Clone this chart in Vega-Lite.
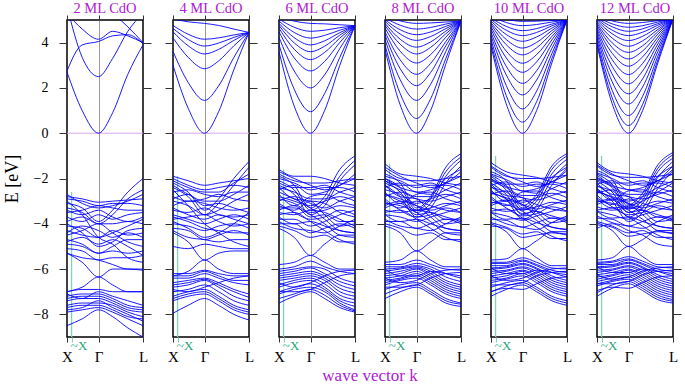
{
"$schema":"https://vega.github.io/schema/vega-lite/v6.json",
"background":"white",
"padding":{"left":2,"top":0,"right":0,"bottom":0},
"spacing":30,
"bounds":"flush",
"title":{"text":"wave vector k","orient":"bottom","anchor":"middle","frame":"group","dx":303,"color":"#b020d0","fontSize":17,"font":"Liberation Serif","fontWeight":"normal","offset":3},
"config":{"font":"Liberation Serif","view":{"stroke":"#000","strokeWidth":1.5},"axis":{"labelFont":"Liberation Serif","titleFont":"Liberation Serif","domain":false,"tickColor":"#333","labelColor":"#000","titleColor":"#000"},"title":{"font":"Liberation Serif","fontWeight":"normal","color":"#b020d0","fontSize":14.5,"offset":-2}},
"datasets":{
"p1":[
{"b":1,"k":0,"e":-2.8},{"b":1,"k":40,"e":-2.9},{"b":1,"k":83,"e":-3.05},{"b":1,"k":120,"e":-3.0},{"b":1,"k":160,"e":-2.95},{"b":1,"k":200,"e":-2.9},
{"b":2,"k":0,"e":-2.9},{"b":2,"k":40,"e":-3.0},{"b":2,"k":83,"e":-3.2},{"b":2,"k":120,"e":-3.1},{"b":2,"k":160,"e":-3.1},{"b":2,"k":200,"e":-3.2},
{"b":3,"k":0,"e":-3.1},{"b":3,"k":40,"e":-3.3},{"b":3,"k":83,"e":-3.9},{"b":3,"k":120,"e":-3.4},{"b":3,"k":160,"e":-2.6},{"b":3,"k":200,"e":-2.0},
{"b":4,"k":0,"e":-3.3},{"b":4,"k":40,"e":-3.5},{"b":4,"k":83,"e":-4.0},{"b":4,"k":120,"e":-3.6},{"b":4,"k":160,"e":-2.9},{"b":4,"k":200,"e":-2.5},
{"b":5,"k":0,"e":-3.5},{"b":5,"k":40,"e":-3.4},{"b":5,"k":83,"e":-3.2},{"b":5,"k":120,"e":-3.3},{"b":5,"k":160,"e":-3.4},{"b":5,"k":200,"e":-3.4},
{"b":6,"k":0,"e":-3.7},{"b":6,"k":40,"e":-3.9},{"b":6,"k":83,"e":-3.6},{"b":6,"k":120,"e":-3.8},{"b":6,"k":160,"e":-3.6},{"b":6,"k":200,"e":-3.5},
{"b":7,"k":0,"e":-3.9},{"b":7,"k":40,"e":-3.7},{"b":7,"k":83,"e":-4.0},{"b":7,"k":120,"e":-4.0},{"b":7,"k":160,"e":-3.9},{"b":7,"k":200,"e":-4.0},
{"b":8,"k":0,"e":-4.1},{"b":8,"k":40,"e":-4.2},{"b":8,"k":83,"e":-4.6},{"b":8,"k":120,"e":-4.4},{"b":8,"k":160,"e":-4.1},{"b":8,"k":200,"e":-3.8},
{"b":9,"k":0,"e":-4.3},{"b":9,"k":40,"e":-4.5},{"b":9,"k":83,"e":-4.6},{"b":9,"k":120,"e":-4.3},{"b":9,"k":160,"e":-4.5},{"b":9,"k":200,"e":-4.4},
{"b":10,"k":0,"e":-4.5},{"b":10,"k":40,"e":-4.3},{"b":10,"k":83,"e":-4.0},{"b":10,"k":120,"e":-4.4},{"b":10,"k":160,"e":-4.8},{"b":10,"k":200,"e":-5.0},
{"b":11,"k":0,"e":-4.7},{"b":11,"k":40,"e":-4.9},{"b":11,"k":83,"e":-5.3},{"b":11,"k":120,"e":-5.0},{"b":11,"k":160,"e":-4.7},{"b":11,"k":200,"e":-4.7},
{"b":12,"k":0,"e":-4.9},{"b":12,"k":40,"e":-5.0},{"b":12,"k":83,"e":-5.3},{"b":12,"k":120,"e":-5.2},{"b":12,"k":160,"e":-5.3},{"b":12,"k":200,"e":-5.2},
{"b":13,"k":0,"e":-5.1},{"b":13,"k":40,"e":-5.2},{"b":13,"k":83,"e":-5.6},{"b":13,"k":120,"e":-5.5},{"b":13,"k":160,"e":-5.5},{"b":13,"k":200,"e":-5.4},
{"b":14,"k":0,"e":-5.3},{"b":14,"k":40,"e":-5.5},{"b":14,"k":83,"e":-5.6},{"b":14,"k":120,"e":-5.8},{"b":14,"k":160,"e":-6.0},{"b":14,"k":200,"e":-6.0},
{"b":15,"k":0,"e":-3.0},{"b":15,"k":40,"e":-3.6},{"b":15,"k":83,"e":-4.6},{"b":15,"k":120,"e":-4.9},{"b":15,"k":160,"e":-5.5},{"b":15,"k":200,"e":-5.7},
{"b":16,"k":0,"e":-5.3},{"b":16,"k":40,"e":-5.7},{"b":16,"k":83,"e":-6.35},{"b":16,"k":120,"e":-6.0},{"b":16,"k":160,"e":-6.0},{"b":16,"k":200,"e":-6.05},
{"b":17,"k":0,"e":-7.0},{"b":17,"k":40,"e":-6.8},{"b":17,"k":83,"e":-6.35},{"b":17,"k":120,"e":-6.7},{"b":17,"k":160,"e":-7.0},{"b":17,"k":200,"e":-7.0},
{"b":18,"k":0,"e":-7.0},{"b":18,"k":40,"e":-6.9},{"b":18,"k":83,"e":-6.9},{"b":18,"k":120,"e":-7.0},{"b":18,"k":160,"e":-7.0},{"b":18,"k":200,"e":-7.0},
{"b":19,"k":0,"e":-7.2},{"b":19,"k":40,"e":-7.1},{"b":19,"k":83,"e":-7.1},{"b":19,"k":120,"e":-7.3},{"b":19,"k":160,"e":-7.6},{"b":19,"k":200,"e":-7.7},
{"b":20,"k":0,"e":-7.4},{"b":20,"k":40,"e":-7.3},{"b":20,"k":83,"e":-7.3},{"b":20,"k":120,"e":-7.5},{"b":20,"k":160,"e":-7.8},{"b":20,"k":200,"e":-7.9},
{"b":21,"k":0,"e":-7.6},{"b":21,"k":40,"e":-7.5},{"b":21,"k":83,"e":-7.5},{"b":21,"k":120,"e":-7.6},{"b":21,"k":160,"e":-7.9},{"b":21,"k":200,"e":-8.1},
{"b":22,"k":0,"e":-7.7},{"b":22,"k":40,"e":-7.6},{"b":22,"k":83,"e":-7.6},{"b":22,"k":120,"e":-7.8},{"b":22,"k":160,"e":-8.1},{"b":22,"k":200,"e":-8.2},
{"b":23,"k":0,"e":-7.9},{"b":23,"k":40,"e":-7.8},{"b":23,"k":83,"e":-7.7},{"b":23,"k":120,"e":-7.9},{"b":23,"k":160,"e":-8.2},{"b":23,"k":200,"e":-8.5},
{"b":24,"k":0,"e":-8.5},{"b":24,"k":40,"e":-8.2},{"b":24,"k":83,"e":-7.8},{"b":24,"k":120,"e":-8.1},{"b":24,"k":160,"e":-8.6},{"b":24,"k":200,"e":-9.0},
{"b":25,"k":0,"e":-7.1},{"b":25,"k":40,"e":-7.3},{"b":25,"k":83,"e":-7.0},{"b":25,"k":120,"e":-7.2},{"b":25,"k":160,"e":-7.4},{"b":25,"k":200,"e":-7.6},
{"b":26,"k":0,"e":-4.0},{"b":26,"k":40,"e":-4.4},{"b":26,"k":83,"e":-5.0},{"b":26,"k":120,"e":-4.8},{"b":26,"k":160,"e":-4.3},{"b":26,"k":200,"e":-4.2},
{"b":27,"k":0,"e":-2.7},{"b":27,"k":40,"e":-3.1},{"b":27,"k":83,"e":-3.3},{"b":27,"k":120,"e":-3.2},{"b":27,"k":160,"e":-3.0},{"b":27,"k":200,"e":-2.7},
{"b":28,"k":0,"e":-3.4},{"b":28,"k":40,"e":-3.6},{"b":28,"k":83,"e":-3.4},{"b":28,"k":120,"e":-3.7},{"b":28,"k":160,"e":-3.9},{"b":28,"k":200,"e":-3.7},
{"b":29,"k":0,"e":-4.4},{"b":29,"k":40,"e":-4.1},{"b":29,"k":83,"e":-4.3},{"b":29,"k":120,"e":-4.6},{"b":29,"k":160,"e":-4.4},{"b":29,"k":200,"e":-4.6},
{"b":30,"k":0,"e":-4.8},{"b":30,"k":40,"e":-4.6},{"b":30,"k":83,"e":-4.9},{"b":30,"k":120,"e":-4.7},{"b":30,"k":160,"e":-5.0},{"b":30,"k":200,"e":-5.4},
{"b":31,"k":0,"e":-7.3},{"b":31,"k":40,"e":-7.2},{"b":31,"k":83,"e":-7.2},{"b":31,"k":120,"e":-7.4},{"b":31,"k":160,"e":-7.7},{"b":31,"k":200,"e":-7.8},
{"b":32,"k":0,"e":-7.8},{"b":32,"k":40,"e":-7.7},{"b":32,"k":83,"e":-7.4},{"b":32,"k":120,"e":-7.7},{"b":32,"k":160,"e":-8.0},{"b":32,"k":200,"e":-8.3},
{"b":101,"k":0,"e":2.7},{"b":101,"k":40,"e":1.0},{"b":101,"k":83,"e":0},{"b":101,"k":120,"e":0.9},{"b":101,"k":160,"e":2.6},{"b":101,"k":200,"e":3.9},
{"b":102,"k":0,"e":5.6},{"b":102,"k":40,"e":3.35},{"b":102,"k":83,"e":2.5},{"b":102,"k":120,"e":3.3},{"b":102,"k":160,"e":4.5},{"b":102,"k":200,"e":5.3},
{"b":103,"k":0,"e":2.75},{"b":103,"k":40,"e":3.9},{"b":103,"k":83,"e":4.05},{"b":103,"k":120,"e":4.3},{"b":103,"k":160,"e":4.35},{"b":103,"k":200,"e":3.95},
{"b":104,"k":0,"e":5.3},{"b":104,"k":40,"e":4.6},{"b":104,"k":83,"e":4.15},{"b":104,"k":120,"e":4.5},{"b":104,"k":160,"e":4.3},{"b":104,"k":200,"e":4.0},
{"b":105,"k":0,"e":6.0},{"b":105,"k":40,"e":6.0},{"b":105,"k":83,"e":5.8},{"b":105,"k":120,"e":5.3},{"b":105,"k":160,"e":4.7},{"b":105,"k":200,"e":4.0}
],
"p2":[
{"b":1,"k":0,"e":-1.9},{"b":1,"k":40,"e":-2.1},{"b":1,"k":83,"e":-2.3},{"b":1,"k":120,"e":-2.2},{"b":1,"k":160,"e":-2.1},{"b":1,"k":200,"e":-2.0},
{"b":2,"k":0,"e":-2.0},{"b":2,"k":40,"e":-2.3},{"b":2,"k":83,"e":-2.5},{"b":2,"k":120,"e":-2.4},{"b":2,"k":160,"e":-2.3},{"b":2,"k":200,"e":-2.4},
{"b":3,"k":0,"e":-2.2},{"b":3,"k":40,"e":-2.6},{"b":3,"k":83,"e":-3.4},{"b":3,"k":120,"e":-2.9},{"b":3,"k":160,"e":-2.0},{"b":3,"k":200,"e":-1.25},
{"b":4,"k":0,"e":-2.4},{"b":4,"k":40,"e":-2.8},{"b":4,"k":83,"e":-3.6},{"b":4,"k":120,"e":-3.1},{"b":4,"k":160,"e":-2.3},{"b":4,"k":200,"e":-1.5},
{"b":5,"k":0,"e":-2.6},{"b":5,"k":40,"e":-2.5},{"b":5,"k":83,"e":-2.7},{"b":5,"k":120,"e":-2.8},{"b":5,"k":160,"e":-2.6},{"b":5,"k":200,"e":-2.6},
{"b":6,"k":0,"e":-2.8},{"b":6,"k":40,"e":-3.0},{"b":6,"k":83,"e":-2.9},{"b":6,"k":120,"e":-2.7},{"b":6,"k":160,"e":-2.9},{"b":6,"k":200,"e":-3.0},
{"b":7,"k":0,"e":-3.0},{"b":7,"k":40,"e":-3.2},{"b":7,"k":83,"e":-3.6},{"b":7,"k":120,"e":-3.4},{"b":7,"k":160,"e":-3.0},{"b":7,"k":200,"e":-2.7},
{"b":8,"k":0,"e":-3.2},{"b":8,"k":40,"e":-3.0},{"b":8,"k":83,"e":-3.1},{"b":8,"k":120,"e":-3.3},{"b":8,"k":160,"e":-3.4},{"b":8,"k":200,"e":-3.3},
{"b":9,"k":0,"e":-3.4},{"b":9,"k":40,"e":-3.5},{"b":9,"k":83,"e":-3.3},{"b":9,"k":120,"e":-3.6},{"b":9,"k":160,"e":-3.7},{"b":9,"k":200,"e":-3.6},
{"b":10,"k":0,"e":-3.6},{"b":10,"k":40,"e":-3.8},{"b":10,"k":83,"e":-4.0},{"b":10,"k":120,"e":-3.8},{"b":10,"k":160,"e":-3.6},{"b":10,"k":200,"e":-3.8},
{"b":11,"k":0,"e":-3.8},{"b":11,"k":40,"e":-3.7},{"b":11,"k":83,"e":-3.6},{"b":11,"k":120,"e":-3.9},{"b":11,"k":160,"e":-4.1},{"b":11,"k":200,"e":-4.0},
{"b":12,"k":0,"e":-4.0},{"b":12,"k":40,"e":-4.1},{"b":12,"k":83,"e":-4.3},{"b":12,"k":120,"e":-4.1},{"b":12,"k":160,"e":-4.0},{"b":12,"k":200,"e":-4.2},
{"b":13,"k":0,"e":-4.2},{"b":13,"k":40,"e":-4.3},{"b":13,"k":83,"e":-4.7},{"b":13,"k":120,"e":-4.5},{"b":13,"k":160,"e":-4.3},{"b":13,"k":200,"e":-4.5},
{"b":14,"k":0,"e":-4.3},{"b":14,"k":40,"e":-4.6},{"b":14,"k":83,"e":-4.7},{"b":14,"k":120,"e":-4.8},{"b":14,"k":160,"e":-4.7},{"b":14,"k":200,"e":-4.7},
{"b":15,"k":0,"e":-2.5},{"b":15,"k":40,"e":-3.2},{"b":15,"k":83,"e":-4.0},{"b":15,"k":120,"e":-4.4},{"b":15,"k":160,"e":-4.8},{"b":15,"k":200,"e":-5.0},
{"b":16,"k":0,"e":-4.4},{"b":16,"k":40,"e":-4.8},{"b":16,"k":83,"e":-5.6},{"b":16,"k":120,"e":-5.3},{"b":16,"k":160,"e":-5.2},{"b":16,"k":200,"e":-5.2},
{"b":17,"k":0,"e":-6.3},{"b":17,"k":40,"e":-6.1},{"b":17,"k":83,"e":-5.6},{"b":17,"k":120,"e":-6.0},{"b":17,"k":160,"e":-6.2},{"b":17,"k":200,"e":-6.2},
{"b":18,"k":0,"e":-6.2},{"b":18,"k":40,"e":-6.2},{"b":18,"k":83,"e":-6.05},{"b":18,"k":120,"e":-6.2},{"b":18,"k":160,"e":-6.3},{"b":18,"k":200,"e":-6.3},
{"b":19,"k":0,"e":-6.4},{"b":19,"k":40,"e":-6.4},{"b":19,"k":83,"e":-6.2},{"b":19,"k":120,"e":-6.4},{"b":19,"k":160,"e":-6.6},{"b":19,"k":200,"e":-6.7},
{"b":20,"k":0,"e":-6.6},{"b":20,"k":40,"e":-6.5},{"b":20,"k":83,"e":-6.4},{"b":20,"k":120,"e":-6.6},{"b":20,"k":160,"e":-6.9},{"b":20,"k":200,"e":-7.1},
{"b":21,"k":0,"e":-6.8},{"b":21,"k":40,"e":-6.7},{"b":21,"k":83,"e":-6.5},{"b":21,"k":120,"e":-6.8},{"b":21,"k":160,"e":-7.2},{"b":21,"k":200,"e":-7.4},
{"b":22,"k":0,"e":-7.0},{"b":22,"k":40,"e":-6.9},{"b":22,"k":83,"e":-6.7},{"b":22,"k":120,"e":-7.0},{"b":22,"k":160,"e":-7.4},{"b":22,"k":200,"e":-7.6},
{"b":23,"k":0,"e":-7.2},{"b":23,"k":40,"e":-7.0},{"b":23,"k":83,"e":-6.9},{"b":23,"k":120,"e":-7.2},{"b":23,"k":160,"e":-7.6},{"b":23,"k":200,"e":-7.8},
{"b":24,"k":0,"e":-7.4},{"b":24,"k":40,"e":-7.2},{"b":24,"k":83,"e":-7.1},{"b":24,"k":120,"e":-7.4},{"b":24,"k":160,"e":-7.8},{"b":24,"k":200,"e":-8.0},
{"b":25,"k":0,"e":-7.95},{"b":25,"k":40,"e":-7.6},{"b":25,"k":83,"e":-7.3},{"b":25,"k":120,"e":-7.6},{"b":25,"k":160,"e":-8.0},{"b":25,"k":200,"e":-8.25},
{"b":26,"k":0,"e":-6.9},{"b":26,"k":40,"e":-7.0},{"b":26,"k":83,"e":-6.8},{"b":26,"k":120,"e":-6.6},{"b":26,"k":160,"e":-6.4},{"b":26,"k":200,"e":-6.3},
{"b":27,"k":0,"e":-5.0},{"b":27,"k":40,"e":-5.1},{"b":27,"k":83,"e":-4.9},{"b":27,"k":120,"e":-5.0},{"b":27,"k":160,"e":-5.1},{"b":27,"k":200,"e":-5.1},
{"b":28,"k":0,"e":-3.9},{"b":28,"k":40,"e":-4.2},{"b":28,"k":83,"e":-4.6},{"b":28,"k":120,"e":-4.4},{"b":28,"k":160,"e":-4.0},{"b":28,"k":200,"e":-3.5},
{"b":29,"k":0,"e":-2.1},{"b":29,"k":40,"e":-2.4},{"b":29,"k":83,"e":-2.6},{"b":29,"k":120,"e":-2.6},{"b":29,"k":160,"e":-2.2},{"b":29,"k":200,"e":-1.8},
{"b":30,"k":0,"e":-2.3},{"b":30,"k":40,"e":-2.7},{"b":30,"k":83,"e":-3.0},{"b":30,"k":120,"e":-3.0},{"b":30,"k":160,"e":-2.7},{"b":30,"k":200,"e":-2.3},
{"b":31,"k":0,"e":-2.9},{"b":31,"k":40,"e":-2.7},{"b":31,"k":83,"e":-3.2},{"b":31,"k":120,"e":-3.1},{"b":31,"k":160,"e":-3.3},{"b":31,"k":200,"e":-3.5},
{"b":32,"k":0,"e":-3.3},{"b":32,"k":40,"e":-3.6},{"b":32,"k":83,"e":-3.8},{"b":32,"k":120,"e":-3.6},{"b":32,"k":160,"e":-3.8},{"b":32,"k":200,"e":-4.0},
{"b":33,"k":0,"e":-3.7},{"b":33,"k":40,"e":-3.9},{"b":33,"k":83,"e":-4.2},{"b":33,"k":120,"e":-4.3},{"b":33,"k":160,"e":-4.4},{"b":33,"k":200,"e":-4.4},
{"b":34,"k":0,"e":-6.3},{"b":34,"k":40,"e":-6.3},{"b":34,"k":83,"e":-6.1},{"b":34,"k":120,"e":-6.3},{"b":34,"k":160,"e":-6.5},{"b":34,"k":200,"e":-6.5},
{"b":35,"k":0,"e":-6.7},{"b":35,"k":40,"e":-6.6},{"b":35,"k":83,"e":-6.45},{"b":35,"k":120,"e":-6.7},{"b":35,"k":160,"e":-7.0},{"b":35,"k":200,"e":-7.25},
{"b":36,"k":0,"e":-7.3},{"b":36,"k":40,"e":-7.1},{"b":36,"k":83,"e":-7.0},{"b":36,"k":120,"e":-7.3},{"b":36,"k":160,"e":-7.7},{"b":36,"k":200,"e":-7.9},
{"b":101,"k":0,"e":3.0},{"b":101,"k":40,"e":1.1},{"b":101,"k":83,"e":0},{"b":101,"k":120,"e":0.95},{"b":101,"k":160,"e":2.8},{"b":101,"k":200,"e":4.45},
{"b":102,"k":0,"e":3.61},{"b":102,"k":40,"e":2.24},{"b":102,"k":83,"e":1.45},{"b":102,"k":120,"e":2.09},{"b":102,"k":160,"e":3.34},{"b":102,"k":200,"e":4.45},
{"b":103,"k":0,"e":4.21},{"b":103,"k":40,"e":3.35},{"b":103,"k":83,"e":2.85},{"b":103,"k":120,"e":3.19},{"b":103,"k":160,"e":3.86},{"b":103,"k":200,"e":4.45},
{"b":104,"k":0,"e":4.48},{"b":104,"k":40,"e":3.86},{"b":104,"k":83,"e":3.5},{"b":104,"k":120,"e":3.7},{"b":104,"k":160,"e":4.1},{"b":104,"k":200,"e":4.45},
{"b":105,"k":0,"e":4.63},{"b":105,"k":40,"e":4.14},{"b":105,"k":83,"e":3.85},{"b":105,"k":120,"e":3.98},{"b":105,"k":160,"e":4.23},{"b":105,"k":200,"e":4.45},
{"b":106,"k":0,"e":4.76},{"b":106,"k":40,"e":4.37},{"b":106,"k":83,"e":4.15},{"b":106,"k":120,"e":4.21},{"b":106,"k":160,"e":4.34},{"b":106,"k":200,"e":4.45},
{"b":107,"k":0,"e":5.05},{"b":107,"k":40,"e":4.92},{"b":107,"k":83,"e":4.85},{"b":107,"k":120,"e":4.76},{"b":107,"k":160,"e":4.6},{"b":107,"k":200,"e":4.45}
],
"p3":[
{"b":1,"k":0,"e":-1.6},{"b":1,"k":40,"e":-1.9},{"b":1,"k":83,"e":-1.9},{"b":1,"k":120,"e":-2.0},{"b":1,"k":160,"e":-2.2},{"b":1,"k":200,"e":-2.3},
{"b":2,"k":0,"e":-1.8},{"b":2,"k":40,"e":-2.1},{"b":2,"k":83,"e":-2.2},{"b":2,"k":120,"e":-2.2},{"b":2,"k":160,"e":-2.1},{"b":2,"k":200,"e":-2.0},
{"b":3,"k":0,"e":-1.9},{"b":3,"k":40,"e":-2.3},{"b":3,"k":83,"e":-3.3},{"b":3,"k":120,"e":-2.8},{"b":3,"k":160,"e":-1.6},{"b":3,"k":200,"e":-1.0},
{"b":4,"k":0,"e":-2.1},{"b":4,"k":40,"e":-2.5},{"b":4,"k":83,"e":-3.4},{"b":4,"k":120,"e":-3.0},{"b":4,"k":160,"e":-1.9},{"b":4,"k":200,"e":-1.2},
{"b":5,"k":0,"e":-2.3},{"b":5,"k":40,"e":-2.7},{"b":5,"k":83,"e":-3.6},{"b":5,"k":120,"e":-3.2},{"b":5,"k":160,"e":-2.1},{"b":5,"k":200,"e":-1.4},
{"b":6,"k":0,"e":-2.0},{"b":6,"k":40,"e":-2.2},{"b":6,"k":83,"e":-2.5},{"b":6,"k":120,"e":-2.4},{"b":6,"k":160,"e":-2.4},{"b":6,"k":200,"e":-2.6},
{"b":7,"k":0,"e":-2.2},{"b":7,"k":40,"e":-2.4},{"b":7,"k":83,"e":-2.4},{"b":7,"k":120,"e":-2.3},{"b":7,"k":160,"e":-2.6},{"b":7,"k":200,"e":-2.8},
{"b":8,"k":0,"e":-2.5},{"b":8,"k":40,"e":-2.3},{"b":8,"k":83,"e":-2.7},{"b":8,"k":120,"e":-2.6},{"b":8,"k":160,"e":-2.3},{"b":8,"k":200,"e":-2.0},
{"b":9,"k":0,"e":-2.7},{"b":9,"k":40,"e":-3.2},{"b":9,"k":83,"e":-2.8},{"b":9,"k":120,"e":-2.7},{"b":9,"k":160,"e":-3.0},{"b":9,"k":200,"e":-3.2},
{"b":10,"k":0,"e":-3.0},{"b":10,"k":40,"e":-2.8},{"b":10,"k":83,"e":-3.1},{"b":10,"k":120,"e":-3.3},{"b":10,"k":160,"e":-3.0},{"b":10,"k":200,"e":-2.8},
{"b":11,"k":0,"e":-3.2},{"b":11,"k":40,"e":-3.4},{"b":11,"k":83,"e":-3.0},{"b":11,"k":120,"e":-3.1},{"b":11,"k":160,"e":-3.5},{"b":11,"k":200,"e":-3.7},
{"b":12,"k":0,"e":-3.5},{"b":12,"k":40,"e":-3.6},{"b":12,"k":83,"e":-3.4},{"b":12,"k":120,"e":-3.5},{"b":12,"k":160,"e":-3.8},{"b":12,"k":200,"e":-4.1},
{"b":13,"k":0,"e":-3.8},{"b":13,"k":40,"e":-3.8},{"b":13,"k":83,"e":-4.1},{"b":13,"k":120,"e":-3.9},{"b":13,"k":160,"e":-3.6},{"b":13,"k":200,"e":-3.4},
{"b":14,"k":0,"e":-4.0},{"b":14,"k":40,"e":-4.0},{"b":14,"k":83,"e":-4.4},{"b":14,"k":120,"e":-4.2},{"b":14,"k":160,"e":-4.0},{"b":14,"k":200,"e":-4.2},
{"b":15,"k":0,"e":-2.4},{"b":15,"k":40,"e":-2.9},{"b":15,"k":83,"e":-3.0},{"b":15,"k":120,"e":-3.6},{"b":15,"k":160,"e":-4.1},{"b":15,"k":200,"e":-4.0},
{"b":16,"k":0,"e":-2.8},{"b":16,"k":40,"e":-3.0},{"b":16,"k":83,"e":-3.3},{"b":16,"k":120,"e":-3.8},{"b":16,"k":160,"e":-4.3},{"b":16,"k":200,"e":-4.4},
{"b":17,"k":0,"e":-3.3},{"b":17,"k":40,"e":-3.3},{"b":17,"k":83,"e":-3.6},{"b":17,"k":120,"e":-4.0},{"b":17,"k":160,"e":-4.5},{"b":17,"k":200,"e":-4.6},
{"b":18,"k":0,"e":-3.6},{"b":18,"k":40,"e":-3.5},{"b":18,"k":83,"e":-3.9},{"b":18,"k":120,"e":-4.3},{"b":18,"k":160,"e":-4.7},{"b":18,"k":200,"e":-4.9},
{"b":19,"k":0,"e":-4.2},{"b":19,"k":40,"e":-4.6},{"b":19,"k":83,"e":-5.4},{"b":19,"k":120,"e":-4.9},{"b":19,"k":160,"e":-4.5},{"b":19,"k":200,"e":-4.5},
{"b":20,"k":0,"e":-5.8},{"b":20,"k":40,"e":-5.7},{"b":20,"k":83,"e":-5.4},{"b":20,"k":120,"e":-5.7},{"b":20,"k":160,"e":-6.0},{"b":20,"k":200,"e":-6.0},
{"b":21,"k":0,"e":-6.0},{"b":21,"k":40,"e":-5.9},{"b":21,"k":83,"e":-5.65},{"b":21,"k":120,"e":-5.9},{"b":21,"k":160,"e":-6.1},{"b":21,"k":200,"e":-6.2},
{"b":22,"k":0,"e":-6.1},{"b":22,"k":40,"e":-6.0},{"b":22,"k":83,"e":-5.9},{"b":22,"k":120,"e":-6.0},{"b":22,"k":160,"e":-6.4},{"b":22,"k":200,"e":-6.6},
{"b":23,"k":0,"e":-6.3},{"b":23,"k":40,"e":-6.2},{"b":23,"k":83,"e":-6.1},{"b":23,"k":120,"e":-6.3},{"b":23,"k":160,"e":-6.7},{"b":23,"k":200,"e":-6.9},
{"b":24,"k":0,"e":-6.5},{"b":24,"k":40,"e":-6.4},{"b":24,"k":83,"e":-6.3},{"b":24,"k":120,"e":-6.5},{"b":24,"k":160,"e":-7.0},{"b":24,"k":200,"e":-7.2},
{"b":25,"k":0,"e":-6.8},{"b":25,"k":40,"e":-6.6},{"b":25,"k":83,"e":-6.5},{"b":25,"k":120,"e":-6.8},{"b":25,"k":160,"e":-7.3},{"b":25,"k":200,"e":-7.5},
{"b":26,"k":0,"e":-7.1},{"b":26,"k":40,"e":-6.9},{"b":26,"k":83,"e":-6.8},{"b":26,"k":120,"e":-7.0},{"b":26,"k":160,"e":-7.5},{"b":26,"k":200,"e":-7.8},
{"b":27,"k":0,"e":-7.5},{"b":27,"k":40,"e":-7.2},{"b":27,"k":83,"e":-7.0},{"b":27,"k":120,"e":-7.3},{"b":27,"k":160,"e":-7.7},{"b":27,"k":200,"e":-7.9},
{"b":28,"k":0,"e":-6.6},{"b":28,"k":40,"e":-6.8},{"b":28,"k":83,"e":-6.6},{"b":28,"k":120,"e":-6.3},{"b":28,"k":160,"e":-6.1},{"b":28,"k":200,"e":-6.05},
{"b":29,"k":0,"e":-7.0},{"b":29,"k":40,"e":-7.0},{"b":29,"k":83,"e":-6.9},{"b":29,"k":120,"e":-6.6},{"b":29,"k":160,"e":-6.3},{"b":29,"k":200,"e":-6.2},
{"b":30,"k":0,"e":-4.1},{"b":30,"k":40,"e":-4.3},{"b":30,"k":83,"e":-4.6},{"b":30,"k":120,"e":-4.5},{"b":30,"k":160,"e":-4.8},{"b":30,"k":200,"e":-4.8},
{"b":31,"k":0,"e":-1.7},{"b":31,"k":40,"e":-2.0},{"b":31,"k":83,"e":-2.3},{"b":31,"k":120,"e":-2.5},{"b":31,"k":160,"e":-2.3},{"b":31,"k":200,"e":-1.8},
{"b":32,"k":0,"e":-2.4},{"b":32,"k":40,"e":-2.6},{"b":32,"k":83,"e":-2.9},{"b":32,"k":120,"e":-2.9},{"b":32,"k":160,"e":-2.6},{"b":32,"k":200,"e":-2.4},
{"b":33,"k":0,"e":-2.6},{"b":33,"k":40,"e":-2.9},{"b":33,"k":83,"e":-3.2},{"b":33,"k":120,"e":-3.0},{"b":33,"k":160,"e":-2.8},{"b":33,"k":200,"e":-3.0},
{"b":34,"k":0,"e":-2.9},{"b":34,"k":40,"e":-3.1},{"b":34,"k":83,"e":-3.5},{"b":34,"k":120,"e":-3.4},{"b":34,"k":160,"e":-3.2},{"b":34,"k":200,"e":-3.3},
{"b":35,"k":0,"e":-3.1},{"b":35,"k":40,"e":-3.5},{"b":35,"k":83,"e":-3.8},{"b":35,"k":120,"e":-3.7},{"b":35,"k":160,"e":-3.4},{"b":35,"k":200,"e":-3.6},
{"b":36,"k":0,"e":-3.4},{"b":36,"k":40,"e":-3.2},{"b":36,"k":83,"e":-3.7},{"b":36,"k":120,"e":-3.6},{"b":36,"k":160,"e":-3.9},{"b":36,"k":200,"e":-3.9},
{"b":37,"k":0,"e":-3.7},{"b":37,"k":40,"e":-4.0},{"b":37,"k":83,"e":-3.9},{"b":37,"k":120,"e":-4.1},{"b":37,"k":160,"e":-4.3},{"b":37,"k":200,"e":-4.4},
{"b":38,"k":0,"e":-3.9},{"b":38,"k":40,"e":-4.2},{"b":38,"k":83,"e":-4.3},{"b":38,"k":120,"e":-4.4},{"b":38,"k":160,"e":-4.1},{"b":38,"k":200,"e":-3.8},
{"b":39,"k":0,"e":-6.2},{"b":39,"k":40,"e":-6.1},{"b":39,"k":83,"e":-5.95},{"b":39,"k":120,"e":-6.2},{"b":39,"k":160,"e":-6.55},{"b":39,"k":200,"e":-6.75},
{"b":40,"k":0,"e":-6.4},{"b":40,"k":40,"e":-6.3},{"b":40,"k":83,"e":-6.2},{"b":40,"k":120,"e":-6.4},{"b":40,"k":160,"e":-6.85},{"b":40,"k":200,"e":-7.05},
{"b":41,"k":0,"e":-6.7},{"b":41,"k":40,"e":-6.5},{"b":41,"k":83,"e":-6.4},{"b":41,"k":120,"e":-6.65},{"b":41,"k":160,"e":-7.15},{"b":41,"k":200,"e":-7.35},
{"b":42,"k":0,"e":-7.0},{"b":42,"k":40,"e":-6.8},{"b":42,"k":83,"e":-6.65},{"b":42,"k":120,"e":-6.9},{"b":42,"k":160,"e":-7.4},{"b":42,"k":200,"e":-7.65},
{"b":43,"k":0,"e":-7.3},{"b":43,"k":40,"e":-7.1},{"b":43,"k":83,"e":-6.9},{"b":43,"k":120,"e":-7.15},{"b":43,"k":160,"e":-7.6},{"b":43,"k":200,"e":-7.85},
{"b":101,"k":0,"e":3.6},{"b":101,"k":40,"e":1.2},{"b":101,"k":83,"e":0},{"b":101,"k":120,"e":1.0},{"b":101,"k":160,"e":3.0},{"b":101,"k":200,"e":4.75},
{"b":102,"k":0,"e":3.91},{"b":102,"k":40,"e":1.94},{"b":102,"k":83,"e":0.95},{"b":102,"k":120,"e":1.75},{"b":102,"k":160,"e":3.35},{"b":102,"k":200,"e":4.75},
{"b":103,"k":0,"e":4.24},{"b":103,"k":40,"e":2.75},{"b":103,"k":83,"e":2.0},{"b":103,"k":120,"e":2.58},{"b":103,"k":160,"e":3.74},{"b":103,"k":200,"e":4.75},
{"b":104,"k":0,"e":4.48},{"b":104,"k":40,"e":3.33},{"b":104,"k":83,"e":2.75},{"b":104,"k":120,"e":3.17},{"b":104,"k":160,"e":4.01},{"b":104,"k":200,"e":4.75},
{"b":105,"k":0,"e":4.64},{"b":105,"k":40,"e":3.71},{"b":105,"k":83,"e":3.25},{"b":105,"k":120,"e":3.57},{"b":105,"k":160,"e":4.2},{"b":105,"k":200,"e":4.75},
{"b":106,"k":0,"e":4.76},{"b":106,"k":40,"e":3.99},{"b":106,"k":83,"e":3.6},{"b":106,"k":120,"e":3.84},{"b":106,"k":160,"e":4.33},{"b":106,"k":200,"e":4.75},
{"b":107,"k":0,"e":4.85},{"b":107,"k":40,"e":4.22},{"b":107,"k":83,"e":3.9},{"b":107,"k":120,"e":4.08},{"b":107,"k":160,"e":4.44},{"b":107,"k":200,"e":4.75},
{"b":108,"k":0,"e":4.95},{"b":108,"k":40,"e":4.45},{"b":108,"k":83,"e":4.2},{"b":108,"k":120,"e":4.32},{"b":108,"k":160,"e":4.55},{"b":108,"k":200,"e":4.75},
{"b":109,"k":0,"e":5.04},{"b":109,"k":40,"e":4.68},{"b":109,"k":83,"e":4.5},{"b":109,"k":120,"e":4.55},{"b":109,"k":160,"e":4.66},{"b":109,"k":200,"e":4.75},
{"b":110,"k":0,"e":5.16},{"b":110,"k":40,"e":4.95},{"b":110,"k":83,"e":4.85},{"b":110,"k":120,"e":4.83},{"b":110,"k":160,"e":4.79},{"b":110,"k":200,"e":4.75}
],
"p4":[
{"b":1,"k":0,"e":-1.35},{"b":1,"k":40,"e":-1.8},{"b":1,"k":83,"e":-1.9},{"b":1,"k":120,"e":-2.0},{"b":1,"k":160,"e":-2.2},{"b":1,"k":200,"e":-2.3},
{"b":2,"k":0,"e":-1.6},{"b":2,"k":40,"e":-2.0},{"b":2,"k":83,"e":-2.1},{"b":2,"k":120,"e":-2.1},{"b":2,"k":160,"e":-2.0},{"b":2,"k":200,"e":-1.9},
{"b":3,"k":0,"e":-1.8},{"b":3,"k":40,"e":-2.2},{"b":3,"k":83,"e":-3.3},{"b":3,"k":120,"e":-2.8},{"b":3,"k":160,"e":-1.5},{"b":3,"k":200,"e":-0.9},
{"b":4,"k":0,"e":-2.0},{"b":4,"k":40,"e":-2.4},{"b":4,"k":83,"e":-3.4},{"b":4,"k":120,"e":-2.9},{"b":4,"k":160,"e":-1.7},{"b":4,"k":200,"e":-1.05},
{"b":5,"k":0,"e":-2.1},{"b":5,"k":40,"e":-2.6},{"b":5,"k":83,"e":-3.5},{"b":5,"k":120,"e":-3.1},{"b":5,"k":160,"e":-1.9},{"b":5,"k":200,"e":-1.2},
{"b":6,"k":0,"e":-2.3},{"b":6,"k":40,"e":-2.8},{"b":6,"k":83,"e":-3.7},{"b":6,"k":120,"e":-3.3},{"b":6,"k":160,"e":-2.2},{"b":6,"k":200,"e":-1.45},
{"b":7,"k":0,"e":-1.9},{"b":7,"k":40,"e":-2.1},{"b":7,"k":83,"e":-2.4},{"b":7,"k":120,"e":-2.3},{"b":7,"k":160,"e":-2.3},{"b":7,"k":200,"e":-2.5},
{"b":8,"k":0,"e":-2.1},{"b":8,"k":40,"e":-2.3},{"b":8,"k":83,"e":-2.3},{"b":8,"k":120,"e":-2.2},{"b":8,"k":160,"e":-2.5},{"b":8,"k":200,"e":-2.7},
{"b":9,"k":0,"e":-2.4},{"b":9,"k":40,"e":-2.2},{"b":9,"k":83,"e":-2.6},{"b":9,"k":120,"e":-2.5},{"b":9,"k":160,"e":-2.2},{"b":9,"k":200,"e":-1.9},
{"b":10,"k":0,"e":-2.6},{"b":10,"k":40,"e":-3.1},{"b":10,"k":83,"e":-2.7},{"b":10,"k":120,"e":-2.6},{"b":10,"k":160,"e":-2.9},{"b":10,"k":200,"e":-3.1},
{"b":11,"k":0,"e":-2.8},{"b":11,"k":40,"e":-2.6},{"b":11,"k":83,"e":-2.9},{"b":11,"k":120,"e":-3.0},{"b":11,"k":160,"e":-2.8},{"b":11,"k":200,"e":-2.6},
{"b":12,"k":0,"e":-3.0},{"b":12,"k":40,"e":-3.3},{"b":12,"k":83,"e":-3.0},{"b":12,"k":120,"e":-3.2},{"b":12,"k":160,"e":-3.4},{"b":12,"k":200,"e":-3.5},
{"b":13,"k":0,"e":-3.2},{"b":13,"k":40,"e":-3.0},{"b":13,"k":83,"e":-3.2},{"b":13,"k":120,"e":-3.4},{"b":13,"k":160,"e":-3.2},{"b":13,"k":200,"e":-3.0},
{"b":14,"k":0,"e":-3.4},{"b":14,"k":40,"e":-3.5},{"b":14,"k":83,"e":-3.4},{"b":14,"k":120,"e":-3.5},{"b":14,"k":160,"e":-3.7},{"b":14,"k":200,"e":-3.9},
{"b":15,"k":0,"e":-3.6},{"b":15,"k":40,"e":-3.7},{"b":15,"k":83,"e":-3.9},{"b":15,"k":120,"e":-3.7},{"b":15,"k":160,"e":-3.5},{"b":15,"k":200,"e":-3.3},
{"b":16,"k":0,"e":-3.9},{"b":16,"k":40,"e":-3.9},{"b":16,"k":83,"e":-4.2},{"b":16,"k":120,"e":-4.0},{"b":16,"k":160,"e":-3.8},{"b":16,"k":200,"e":-4.0},
{"b":17,"k":0,"e":-2.3},{"b":17,"k":40,"e":-2.8},{"b":17,"k":83,"e":-2.9},{"b":17,"k":120,"e":-3.5},{"b":17,"k":160,"e":-4.0},{"b":17,"k":200,"e":-3.9},
{"b":18,"k":0,"e":-2.7},{"b":18,"k":40,"e":-2.9},{"b":18,"k":83,"e":-3.2},{"b":18,"k":120,"e":-3.7},{"b":18,"k":160,"e":-4.2},{"b":18,"k":200,"e":-4.3},
{"b":19,"k":0,"e":-3.1},{"b":19,"k":40,"e":-3.2},{"b":19,"k":83,"e":-3.5},{"b":19,"k":120,"e":-3.9},{"b":19,"k":160,"e":-4.4},{"b":19,"k":200,"e":-4.5},
{"b":20,"k":0,"e":-3.5},{"b":20,"k":40,"e":-3.4},{"b":20,"k":83,"e":-3.8},{"b":20,"k":120,"e":-4.2},{"b":20,"k":160,"e":-4.6},{"b":20,"k":200,"e":-4.8},
{"b":21,"k":0,"e":-4.1},{"b":21,"k":40,"e":-4.4},{"b":21,"k":83,"e":-5.2},{"b":21,"k":120,"e":-4.8},{"b":21,"k":160,"e":-4.4},{"b":21,"k":200,"e":-4.4},
{"b":22,"k":0,"e":-5.7},{"b":22,"k":40,"e":-5.6},{"b":22,"k":83,"e":-5.2},{"b":22,"k":120,"e":-5.6},{"b":22,"k":160,"e":-5.9},{"b":22,"k":200,"e":-5.9},
{"b":23,"k":0,"e":-5.8},{"b":23,"k":40,"e":-5.8},{"b":23,"k":83,"e":-5.6},{"b":23,"k":120,"e":-5.8},{"b":23,"k":160,"e":-6.0},{"b":23,"k":200,"e":-6.05},
{"b":24,"k":0,"e":-5.9},{"b":24,"k":40,"e":-5.9},{"b":24,"k":83,"e":-5.75},{"b":24,"k":120,"e":-5.9},{"b":24,"k":160,"e":-6.2},{"b":24,"k":200,"e":-6.4},
{"b":25,"k":0,"e":-6.1},{"b":25,"k":40,"e":-6.0},{"b":25,"k":83,"e":-5.9},{"b":25,"k":120,"e":-6.1},{"b":25,"k":160,"e":-6.5},{"b":25,"k":200,"e":-6.7},
{"b":26,"k":0,"e":-6.3},{"b":26,"k":40,"e":-6.2},{"b":26,"k":83,"e":-6.0},{"b":26,"k":120,"e":-6.3},{"b":26,"k":160,"e":-6.7},{"b":26,"k":200,"e":-6.9},
{"b":27,"k":0,"e":-6.5},{"b":27,"k":40,"e":-6.4},{"b":27,"k":83,"e":-6.2},{"b":27,"k":120,"e":-6.5},{"b":27,"k":160,"e":-6.9},{"b":27,"k":200,"e":-7.1},
{"b":28,"k":0,"e":-6.7},{"b":28,"k":40,"e":-6.5},{"b":28,"k":83,"e":-6.4},{"b":28,"k":120,"e":-6.7},{"b":28,"k":160,"e":-7.1},{"b":28,"k":200,"e":-7.3},
{"b":29,"k":0,"e":-6.9},{"b":29,"k":40,"e":-6.7},{"b":29,"k":83,"e":-6.6},{"b":29,"k":120,"e":-6.9},{"b":29,"k":160,"e":-7.3},{"b":29,"k":200,"e":-7.5},
{"b":30,"k":0,"e":-7.3},{"b":30,"k":40,"e":-7.0},{"b":30,"k":83,"e":-6.8},{"b":30,"k":120,"e":-7.1},{"b":30,"k":160,"e":-7.5},{"b":30,"k":200,"e":-7.65},
{"b":31,"k":0,"e":-6.4},{"b":31,"k":40,"e":-6.6},{"b":31,"k":83,"e":-6.5},{"b":31,"k":120,"e":-6.2},{"b":31,"k":160,"e":-6.05},{"b":31,"k":200,"e":-6.0},
{"b":32,"k":0,"e":-6.8},{"b":32,"k":40,"e":-6.8},{"b":32,"k":83,"e":-6.7},{"b":32,"k":120,"e":-6.4},{"b":32,"k":160,"e":-6.2},{"b":32,"k":200,"e":-6.15},
{"b":33,"k":0,"e":-4.0},{"b":33,"k":40,"e":-4.2},{"b":33,"k":83,"e":-4.5},{"b":33,"k":120,"e":-4.4},{"b":33,"k":160,"e":-4.7},{"b":33,"k":200,"e":-4.7},
{"b":34,"k":0,"e":-6.0},{"b":34,"k":40,"e":-6.3},{"b":34,"k":83,"e":-6.3},{"b":34,"k":120,"e":-6.1},{"b":34,"k":160,"e":-6.2},{"b":34,"k":200,"e":-6.3},
{"b":35,"k":0,"e":-1.5},{"b":35,"k":40,"e":-1.9},{"b":35,"k":83,"e":-2.2},{"b":35,"k":120,"e":-2.4},{"b":35,"k":160,"e":-2.2},{"b":35,"k":200,"e":-1.7},
{"b":36,"k":0,"e":-2.2},{"b":36,"k":40,"e":-2.5},{"b":36,"k":83,"e":-2.8},{"b":36,"k":120,"e":-2.8},{"b":36,"k":160,"e":-2.5},{"b":36,"k":200,"e":-2.2},
{"b":37,"k":0,"e":-2.5},{"b":37,"k":40,"e":-2.7},{"b":37,"k":83,"e":-3.1},{"b":37,"k":120,"e":-2.9},{"b":37,"k":160,"e":-2.7},{"b":37,"k":200,"e":-2.9},
{"b":38,"k":0,"e":-2.7},{"b":38,"k":40,"e":-3.0},{"b":38,"k":83,"e":-3.4},{"b":38,"k":120,"e":-3.3},{"b":38,"k":160,"e":-3.1},{"b":38,"k":200,"e":-3.2},
{"b":39,"k":0,"e":-2.9},{"b":39,"k":40,"e":-3.4},{"b":39,"k":83,"e":-3.7},{"b":39,"k":120,"e":-3.6},{"b":39,"k":160,"e":-3.3},{"b":39,"k":200,"e":-3.5},
{"b":40,"k":0,"e":-3.3},{"b":40,"k":40,"e":-3.1},{"b":40,"k":83,"e":-3.6},{"b":40,"k":120,"e":-3.5},{"b":40,"k":160,"e":-3.8},{"b":40,"k":200,"e":-3.8},
{"b":41,"k":0,"e":-3.6},{"b":41,"k":40,"e":-3.9},{"b":41,"k":83,"e":-3.8},{"b":41,"k":120,"e":-4.0},{"b":41,"k":160,"e":-4.2},{"b":41,"k":200,"e":-4.3},
{"b":42,"k":0,"e":-3.8},{"b":42,"k":40,"e":-4.1},{"b":42,"k":83,"e":-4.2},{"b":42,"k":120,"e":-4.3},{"b":42,"k":160,"e":-4.0},{"b":42,"k":200,"e":-3.7},
{"b":43,"k":0,"e":-2.0},{"b":43,"k":40,"e":-2.4},{"b":43,"k":83,"e":-2.6},{"b":43,"k":120,"e":-2.7},{"b":43,"k":160,"e":-2.0},{"b":43,"k":200,"e":-1.6},
{"b":44,"k":0,"e":-6.0},{"b":44,"k":40,"e":-5.95},{"b":44,"k":83,"e":-5.85},{"b":44,"k":120,"e":-6.0},{"b":44,"k":160,"e":-6.35},{"b":44,"k":200,"e":-6.55},
{"b":45,"k":0,"e":-6.2},{"b":45,"k":40,"e":-6.1},{"b":45,"k":83,"e":-5.95},{"b":45,"k":120,"e":-6.2},{"b":45,"k":160,"e":-6.6},{"b":45,"k":200,"e":-6.8},
{"b":46,"k":0,"e":-6.4},{"b":46,"k":40,"e":-6.3},{"b":46,"k":83,"e":-6.1},{"b":46,"k":120,"e":-6.4},{"b":46,"k":160,"e":-6.8},{"b":46,"k":200,"e":-7.0},
{"b":47,"k":0,"e":-6.6},{"b":47,"k":40,"e":-6.45},{"b":47,"k":83,"e":-6.3},{"b":47,"k":120,"e":-6.6},{"b":47,"k":160,"e":-7.0},{"b":47,"k":200,"e":-7.2},
{"b":48,"k":0,"e":-7.1},{"b":48,"k":40,"e":-6.85},{"b":48,"k":83,"e":-6.7},{"b":48,"k":120,"e":-7.0},{"b":48,"k":160,"e":-7.4},{"b":48,"k":200,"e":-7.55},
{"b":101,"k":0,"e":3.7},{"b":101,"k":40,"e":1.25},{"b":101,"k":83,"e":0},{"b":101,"k":120,"e":1.0},{"b":101,"k":160,"e":3.05},{"b":101,"k":200,"e":4.95},
{"b":102,"k":0,"e":3.89},{"b":102,"k":40,"e":1.75},{"b":102,"k":83,"e":0.65},{"b":102,"k":120,"e":1.52},{"b":102,"k":160,"e":3.3},{"b":102,"k":200,"e":4.95},
{"b":103,"k":0,"e":4.14},{"b":103,"k":40,"e":2.36},{"b":103,"k":83,"e":1.45},{"b":103,"k":120,"e":2.16},{"b":103,"k":160,"e":3.61},{"b":103,"k":200,"e":4.95},
{"b":104,"k":0,"e":4.33},{"b":104,"k":40,"e":2.85},{"b":104,"k":83,"e":2.1},{"b":104,"k":120,"e":2.68},{"b":104,"k":160,"e":3.86},{"b":104,"k":200,"e":4.95},
{"b":105,"k":0,"e":4.48},{"b":105,"k":40,"e":3.24},{"b":105,"k":83,"e":2.6},{"b":105,"k":120,"e":3.08},{"b":105,"k":160,"e":4.05},{"b":105,"k":200,"e":4.95},
{"b":106,"k":0,"e":4.64},{"b":106,"k":40,"e":3.62},{"b":106,"k":83,"e":3.1},{"b":106,"k":120,"e":3.47},{"b":106,"k":160,"e":4.24},{"b":106,"k":200,"e":4.95},
{"b":107,"k":0,"e":4.76},{"b":107,"k":40,"e":3.93},{"b":107,"k":83,"e":3.5},{"b":107,"k":120,"e":3.79},{"b":107,"k":160,"e":4.39},{"b":107,"k":200,"e":4.95},
{"b":108,"k":0,"e":4.85},{"b":108,"k":40,"e":4.15},{"b":108,"k":83,"e":3.8},{"b":108,"k":120,"e":4.03},{"b":108,"k":160,"e":4.51},{"b":108,"k":200,"e":4.95},
{"b":109,"k":0,"e":4.94},{"b":109,"k":40,"e":4.38},{"b":109,"k":83,"e":4.1},{"b":109,"k":120,"e":4.27},{"b":109,"k":160,"e":4.62},{"b":109,"k":200,"e":4.95},
{"b":110,"k":0,"e":5.01},{"b":110,"k":40,"e":4.57},{"b":110,"k":83,"e":4.35},{"b":110,"k":120,"e":4.47},{"b":110,"k":160,"e":4.72},{"b":110,"k":200,"e":4.95},
{"b":111,"k":0,"e":5.09},{"b":111,"k":40,"e":4.77},{"b":111,"k":83,"e":4.6},{"b":111,"k":120,"e":4.67},{"b":111,"k":160,"e":4.82},{"b":111,"k":200,"e":4.95},
{"b":112,"k":0,"e":5.16},{"b":112,"k":40,"e":4.96},{"b":112,"k":83,"e":4.85},{"b":112,"k":120,"e":4.87},{"b":112,"k":160,"e":4.91},{"b":112,"k":200,"e":4.95}
],
"p5":[
{"b":1,"k":0,"e":-1.3},{"b":1,"k":40,"e":-1.7},{"b":1,"k":83,"e":-1.85},{"b":1,"k":120,"e":-1.95},{"b":1,"k":160,"e":-2.15},{"b":1,"k":200,"e":-2.25},
{"b":2,"k":0,"e":-1.5},{"b":2,"k":40,"e":-1.9},{"b":2,"k":83,"e":-2.0},{"b":2,"k":120,"e":-2.0},{"b":2,"k":160,"e":-1.95},{"b":2,"k":200,"e":-1.85},
{"b":3,"k":0,"e":-1.7},{"b":3,"k":40,"e":-2.1},{"b":3,"k":83,"e":-3.2},{"b":3,"k":120,"e":-2.7},{"b":3,"k":160,"e":-1.45},{"b":3,"k":200,"e":-0.9},
{"b":4,"k":0,"e":-1.85},{"b":4,"k":40,"e":-2.3},{"b":4,"k":83,"e":-3.3},{"b":4,"k":120,"e":-2.85},{"b":4,"k":160,"e":-1.6},{"b":4,"k":200,"e":-1.0},
{"b":5,"k":0,"e":-2.0},{"b":5,"k":40,"e":-2.5},{"b":5,"k":83,"e":-3.4},{"b":5,"k":120,"e":-3.0},{"b":5,"k":160,"e":-1.8},{"b":5,"k":200,"e":-1.15},
{"b":6,"k":0,"e":-2.2},{"b":6,"k":40,"e":-2.7},{"b":6,"k":83,"e":-3.6},{"b":6,"k":120,"e":-3.2},{"b":6,"k":160,"e":-2.05},{"b":6,"k":200,"e":-1.35},
{"b":7,"k":0,"e":-2.35},{"b":7,"k":40,"e":-2.9},{"b":7,"k":83,"e":-3.8},{"b":7,"k":120,"e":-3.4},{"b":7,"k":160,"e":-2.3},{"b":7,"k":200,"e":-1.55},
{"b":8,"k":0,"e":-1.8},{"b":8,"k":40,"e":-2.05},{"b":8,"k":83,"e":-2.35},{"b":8,"k":120,"e":-2.25},{"b":8,"k":160,"e":-2.25},{"b":8,"k":200,"e":-2.45},
{"b":9,"k":0,"e":-2.05},{"b":9,"k":40,"e":-2.25},{"b":9,"k":83,"e":-2.25},{"b":9,"k":120,"e":-2.15},{"b":9,"k":160,"e":-2.45},{"b":9,"k":200,"e":-2.65},
{"b":10,"k":0,"e":-2.3},{"b":10,"k":40,"e":-2.15},{"b":10,"k":83,"e":-2.55},{"b":10,"k":120,"e":-2.45},{"b":10,"k":160,"e":-2.15},{"b":10,"k":200,"e":-1.85},
{"b":11,"k":0,"e":-2.5},{"b":11,"k":40,"e":-3.0},{"b":11,"k":83,"e":-2.6},{"b":11,"k":120,"e":-2.55},{"b":11,"k":160,"e":-2.85},{"b":11,"k":200,"e":-3.05},
{"b":12,"k":0,"e":-2.7},{"b":12,"k":40,"e":-2.55},{"b":12,"k":83,"e":-2.85},{"b":12,"k":120,"e":-2.95},{"b":12,"k":160,"e":-2.75},{"b":12,"k":200,"e":-2.55},
{"b":13,"k":0,"e":-2.9},{"b":13,"k":40,"e":-3.2},{"b":13,"k":83,"e":-2.95},{"b":13,"k":120,"e":-3.15},{"b":13,"k":160,"e":-3.35},{"b":13,"k":200,"e":-3.45},
{"b":14,"k":0,"e":-3.1},{"b":14,"k":40,"e":-2.95},{"b":14,"k":83,"e":-3.15},{"b":14,"k":120,"e":-3.35},{"b":14,"k":160,"e":-3.15},{"b":14,"k":200,"e":-2.95},
{"b":15,"k":0,"e":-3.3},{"b":15,"k":40,"e":-3.45},{"b":15,"k":83,"e":-3.35},{"b":15,"k":120,"e":-3.45},{"b":15,"k":160,"e":-3.65},{"b":15,"k":200,"e":-3.85},
{"b":16,"k":0,"e":-3.5},{"b":16,"k":40,"e":-3.65},{"b":16,"k":83,"e":-3.85},{"b":16,"k":120,"e":-3.65},{"b":16,"k":160,"e":-3.45},{"b":16,"k":200,"e":-3.25},
{"b":17,"k":0,"e":-3.8},{"b":17,"k":40,"e":-3.85},{"b":17,"k":83,"e":-4.15},{"b":17,"k":120,"e":-3.95},{"b":17,"k":160,"e":-3.75},{"b":17,"k":200,"e":-3.95},
{"b":18,"k":0,"e":-2.25},{"b":18,"k":40,"e":-2.75},{"b":18,"k":83,"e":-2.85},{"b":18,"k":120,"e":-3.45},{"b":18,"k":160,"e":-3.95},{"b":18,"k":200,"e":-3.85},
{"b":19,"k":0,"e":-2.65},{"b":19,"k":40,"e":-2.85},{"b":19,"k":83,"e":-3.15},{"b":19,"k":120,"e":-3.65},{"b":19,"k":160,"e":-4.15},{"b":19,"k":200,"e":-4.25},
{"b":20,"k":0,"e":-3.05},{"b":20,"k":40,"e":-3.15},{"b":20,"k":83,"e":-3.45},{"b":20,"k":120,"e":-3.85},{"b":20,"k":160,"e":-4.35},{"b":20,"k":200,"e":-4.45},
{"b":21,"k":0,"e":-3.45},{"b":21,"k":40,"e":-3.35},{"b":21,"k":83,"e":-3.75},{"b":21,"k":120,"e":-4.15},{"b":21,"k":160,"e":-4.55},{"b":21,"k":200,"e":-4.75},
{"b":22,"k":0,"e":-4.0},{"b":22,"k":40,"e":-4.35},{"b":22,"k":83,"e":-5.1},{"b":22,"k":120,"e":-4.75},{"b":22,"k":160,"e":-4.35},{"b":22,"k":200,"e":-4.35},
{"b":23,"k":0,"e":-5.6},{"b":23,"k":40,"e":-5.55},{"b":23,"k":83,"e":-5.1},{"b":23,"k":120,"e":-5.5},{"b":23,"k":160,"e":-5.85},{"b":23,"k":200,"e":-5.85},
{"b":24,"k":0,"e":-5.7},{"b":24,"k":40,"e":-5.7},{"b":24,"k":83,"e":-5.5},{"b":24,"k":120,"e":-5.7},{"b":24,"k":160,"e":-5.95},{"b":24,"k":200,"e":-6.0},
{"b":25,"k":0,"e":-5.85},{"b":25,"k":40,"e":-5.85},{"b":25,"k":83,"e":-5.65},{"b":25,"k":120,"e":-5.85},{"b":25,"k":160,"e":-6.15},{"b":25,"k":200,"e":-6.35},
{"b":26,"k":0,"e":-6.0},{"b":26,"k":40,"e":-5.95},{"b":26,"k":83,"e":-5.8},{"b":26,"k":120,"e":-6.0},{"b":26,"k":160,"e":-6.4},{"b":26,"k":200,"e":-6.6},
{"b":27,"k":0,"e":-6.2},{"b":27,"k":40,"e":-6.1},{"b":27,"k":83,"e":-5.95},{"b":27,"k":120,"e":-6.2},{"b":27,"k":160,"e":-6.6},{"b":27,"k":200,"e":-6.8},
{"b":28,"k":0,"e":-6.4},{"b":28,"k":40,"e":-6.3},{"b":28,"k":83,"e":-6.1},{"b":28,"k":120,"e":-6.4},{"b":28,"k":160,"e":-6.8},{"b":28,"k":200,"e":-7.0},
{"b":29,"k":0,"e":-6.6},{"b":29,"k":40,"e":-6.45},{"b":29,"k":83,"e":-6.3},{"b":29,"k":120,"e":-6.6},{"b":29,"k":160,"e":-7.0},{"b":29,"k":200,"e":-7.2},
{"b":30,"k":0,"e":-6.8},{"b":30,"k":40,"e":-6.6},{"b":30,"k":83,"e":-6.5},{"b":30,"k":120,"e":-6.8},{"b":30,"k":160,"e":-7.2},{"b":30,"k":200,"e":-7.4},
{"b":31,"k":0,"e":-7.2},{"b":31,"k":40,"e":-6.9},{"b":31,"k":83,"e":-6.7},{"b":31,"k":120,"e":-7.0},{"b":31,"k":160,"e":-7.4},{"b":31,"k":200,"e":-7.6},
{"b":32,"k":0,"e":-6.3},{"b":32,"k":40,"e":-6.5},{"b":32,"k":83,"e":-6.4},{"b":32,"k":120,"e":-6.15},{"b":32,"k":160,"e":-6.0},{"b":32,"k":200,"e":-5.95},
{"b":33,"k":0,"e":-6.7},{"b":33,"k":40,"e":-6.7},{"b":33,"k":83,"e":-6.6},{"b":33,"k":120,"e":-6.3},{"b":33,"k":160,"e":-6.15},{"b":33,"k":200,"e":-6.1},
{"b":34,"k":0,"e":-3.95},{"b":34,"k":40,"e":-4.15},{"b":34,"k":83,"e":-4.45},{"b":34,"k":120,"e":-4.35},{"b":34,"k":160,"e":-4.65},{"b":34,"k":200,"e":-4.65},
{"b":35,"k":0,"e":-5.95},{"b":35,"k":40,"e":-6.2},{"b":35,"k":83,"e":-6.2},{"b":35,"k":120,"e":-6.05},{"b":35,"k":160,"e":-6.15},{"b":35,"k":200,"e":-6.25},
{"b":36,"k":0,"e":-7.0},{"b":36,"k":40,"e":-6.85},{"b":36,"k":83,"e":-6.9},{"b":36,"k":120,"e":-6.65},{"b":36,"k":160,"e":-6.4},{"b":36,"k":200,"e":-6.35},
{"b":37,"k":0,"e":-1.45},{"b":37,"k":40,"e":-1.85},{"b":37,"k":83,"e":-2.15},{"b":37,"k":120,"e":-2.35},{"b":37,"k":160,"e":-2.15},{"b":37,"k":200,"e":-1.65},
{"b":38,"k":0,"e":-2.1},{"b":38,"k":40,"e":-2.4},{"b":38,"k":83,"e":-2.75},{"b":38,"k":120,"e":-2.75},{"b":38,"k":160,"e":-2.45},{"b":38,"k":200,"e":-2.15},
{"b":39,"k":0,"e":-2.4},{"b":39,"k":40,"e":-2.6},{"b":39,"k":83,"e":-3.05},{"b":39,"k":120,"e":-2.85},{"b":39,"k":160,"e":-2.65},{"b":39,"k":200,"e":-2.85},
{"b":40,"k":0,"e":-2.6},{"b":40,"k":40,"e":-2.9},{"b":40,"k":83,"e":-3.35},{"b":40,"k":120,"e":-3.25},{"b":40,"k":160,"e":-3.05},{"b":40,"k":200,"e":-3.15},
{"b":41,"k":0,"e":-2.8},{"b":41,"k":40,"e":-3.3},{"b":41,"k":83,"e":-3.65},{"b":41,"k":120,"e":-3.55},{"b":41,"k":160,"e":-3.25},{"b":41,"k":200,"e":-3.45},
{"b":42,"k":0,"e":-3.2},{"b":42,"k":40,"e":-3.0},{"b":42,"k":83,"e":-3.55},{"b":42,"k":120,"e":-3.45},{"b":42,"k":160,"e":-3.75},{"b":42,"k":200,"e":-3.75},
{"b":43,"k":0,"e":-3.5},{"b":43,"k":40,"e":-3.8},{"b":43,"k":83,"e":-3.75},{"b":43,"k":120,"e":-3.95},{"b":43,"k":160,"e":-4.15},{"b":43,"k":200,"e":-4.25},
{"b":44,"k":0,"e":-3.7},{"b":44,"k":40,"e":-4.0},{"b":44,"k":83,"e":-4.15},{"b":44,"k":120,"e":-4.25},{"b":44,"k":160,"e":-3.95},{"b":44,"k":200,"e":-3.65},
{"b":45,"k":0,"e":-1.9},{"b":45,"k":40,"e":-2.35},{"b":45,"k":83,"e":-2.55},{"b":45,"k":120,"e":-2.65},{"b":45,"k":160,"e":-1.95},{"b":45,"k":200,"e":-1.5},
{"b":46,"k":0,"e":-4.1},{"b":46,"k":40,"e":-4.2},{"b":46,"k":83,"e":-4.6},{"b":46,"k":120,"e":-4.5},{"b":46,"k":160,"e":-4.4},{"b":46,"k":200,"e":-4.5},
{"b":47,"k":0,"e":-5.75},{"b":47,"k":40,"e":-5.75},{"b":47,"k":83,"e":-5.6},{"b":47,"k":120,"e":-5.8},{"b":47,"k":160,"e":-6.05},{"b":47,"k":200,"e":-6.15},
{"b":48,"k":0,"e":-5.95},{"b":48,"k":40,"e":-5.9},{"b":48,"k":83,"e":-5.75},{"b":48,"k":120,"e":-5.95},{"b":48,"k":160,"e":-6.3},{"b":48,"k":200,"e":-6.5},
{"b":49,"k":0,"e":-6.1},{"b":49,"k":40,"e":-6.05},{"b":49,"k":83,"e":-5.9},{"b":49,"k":120,"e":-6.1},{"b":49,"k":160,"e":-6.5},{"b":49,"k":200,"e":-6.7},
{"b":50,"k":0,"e":-6.3},{"b":50,"k":40,"e":-6.2},{"b":50,"k":83,"e":-6.05},{"b":50,"k":120,"e":-6.3},{"b":50,"k":160,"e":-6.7},{"b":50,"k":200,"e":-6.9},
{"b":51,"k":0,"e":-6.5},{"b":51,"k":40,"e":-6.4},{"b":51,"k":83,"e":-6.2},{"b":51,"k":120,"e":-6.5},{"b":51,"k":160,"e":-6.9},{"b":51,"k":200,"e":-7.1},
{"b":52,"k":0,"e":-7.0},{"b":52,"k":40,"e":-6.75},{"b":52,"k":83,"e":-6.6},{"b":52,"k":120,"e":-6.9},{"b":52,"k":160,"e":-7.3},{"b":52,"k":200,"e":-7.5},
{"b":101,"k":0,"e":3.85},{"b":101,"k":40,"e":1.3},{"b":101,"k":83,"e":0},{"b":101,"k":120,"e":1.0},{"b":101,"k":160,"e":3.1},{"b":101,"k":200,"e":5.0},
{"b":102,"k":0,"e":3.99},{"b":102,"k":40,"e":1.67},{"b":102,"k":83,"e":0.49},{"b":102,"k":120,"e":1.39},{"b":102,"k":160,"e":3.29},{"b":102,"k":200,"e":5.0},
{"b":103,"k":0,"e":4.14},{"b":103,"k":40,"e":2.11},{"b":103,"k":83,"e":1.07},{"b":103,"k":120,"e":1.86},{"b":103,"k":160,"e":3.51},{"b":103,"k":200,"e":5.0},
{"b":104,"k":0,"e":4.31},{"b":104,"k":40,"e":2.58},{"b":104,"k":83,"e":1.69},{"b":104,"k":120,"e":2.35},{"b":104,"k":160,"e":3.74},{"b":104,"k":200,"e":5.0},
{"b":105,"k":0,"e":4.45},{"b":105,"k":40,"e":2.96},{"b":105,"k":83,"e":2.2},{"b":105,"k":120,"e":2.76},{"b":105,"k":160,"e":3.94},{"b":105,"k":200,"e":5.0},
{"b":106,"k":0,"e":4.59},{"b":106,"k":40,"e":3.33},{"b":106,"k":83,"e":2.69},{"b":106,"k":120,"e":3.15},{"b":106,"k":160,"e":4.12},{"b":106,"k":200,"e":5.0},
{"b":107,"k":0,"e":4.7},{"b":107,"k":40,"e":3.63},{"b":107,"k":83,"e":3.09},{"b":107,"k":120,"e":3.47},{"b":107,"k":160,"e":4.27},{"b":107,"k":200,"e":5.0},
{"b":108,"k":0,"e":4.8},{"b":108,"k":40,"e":3.91},{"b":108,"k":83,"e":3.46},{"b":108,"k":120,"e":3.77},{"b":108,"k":160,"e":4.41},{"b":108,"k":200,"e":5.0},
{"b":109,"k":0,"e":4.88},{"b":109,"k":40,"e":4.14},{"b":109,"k":83,"e":3.76},{"b":109,"k":120,"e":4.01},{"b":109,"k":160,"e":4.53},{"b":109,"k":200,"e":5.0},
{"b":110,"k":0,"e":4.96},{"b":110,"k":40,"e":4.36},{"b":110,"k":83,"e":4.06},{"b":110,"k":120,"e":4.25},{"b":110,"k":160,"e":4.64},{"b":110,"k":200,"e":5.0},
{"b":111,"k":0,"e":5.03},{"b":111,"k":40,"e":4.55},{"b":111,"k":83,"e":4.31},{"b":111,"k":120,"e":4.45},{"b":111,"k":160,"e":4.74},{"b":111,"k":200,"e":5.0},
{"b":112,"k":0,"e":5.09},{"b":112,"k":40,"e":4.72},{"b":112,"k":83,"e":4.53},{"b":112,"k":120,"e":4.62},{"b":112,"k":160,"e":4.82},{"b":112,"k":200,"e":5.0},
{"b":113,"k":0,"e":5.15},{"b":113,"k":40,"e":4.89},{"b":113,"k":83,"e":4.75},{"b":113,"k":120,"e":4.8},{"b":113,"k":160,"e":4.91},{"b":113,"k":200,"e":5.0},
{"b":114,"k":0,"e":5.2},{"b":114,"k":40,"e":5.03},{"b":114,"k":83,"e":4.94},{"b":114,"k":120,"e":4.95},{"b":114,"k":160,"e":4.98},{"b":114,"k":200,"e":5.0}
],
"p6":[
{"b":1,"k":0,"e":-1.3},{"b":1,"k":40,"e":-1.7},{"b":1,"k":83,"e":-1.8},{"b":1,"k":120,"e":-1.9},{"b":1,"k":160,"e":-2.1},{"b":1,"k":200,"e":-2.2},
{"b":2,"k":0,"e":-1.45},{"b":2,"k":40,"e":-1.85},{"b":2,"k":83,"e":-1.95},{"b":2,"k":120,"e":-1.95},{"b":2,"k":160,"e":-1.9},{"b":2,"k":200,"e":-1.8},
{"b":3,"k":0,"e":-1.65},{"b":3,"k":40,"e":-2.05},{"b":3,"k":83,"e":-3.15},{"b":3,"k":120,"e":-2.65},{"b":3,"k":160,"e":-1.4},{"b":3,"k":200,"e":-0.85},
{"b":4,"k":0,"e":-1.8},{"b":4,"k":40,"e":-2.25},{"b":4,"k":83,"e":-3.25},{"b":4,"k":120,"e":-2.8},{"b":4,"k":160,"e":-1.55},{"b":4,"k":200,"e":-0.95},
{"b":5,"k":0,"e":-1.95},{"b":5,"k":40,"e":-2.4},{"b":5,"k":83,"e":-3.35},{"b":5,"k":120,"e":-2.95},{"b":5,"k":160,"e":-1.7},{"b":5,"k":200,"e":-1.1},
{"b":6,"k":0,"e":-2.1},{"b":6,"k":40,"e":-2.6},{"b":6,"k":83,"e":-3.5},{"b":6,"k":120,"e":-3.1},{"b":6,"k":160,"e":-1.95},{"b":6,"k":200,"e":-1.25},
{"b":7,"k":0,"e":-2.3},{"b":7,"k":40,"e":-2.8},{"b":7,"k":83,"e":-3.7},{"b":7,"k":120,"e":-3.3},{"b":7,"k":160,"e":-2.2},{"b":7,"k":200,"e":-1.45},
{"b":8,"k":0,"e":-2.45},{"b":8,"k":40,"e":-3.0},{"b":8,"k":83,"e":-3.9},{"b":8,"k":120,"e":-3.5},{"b":8,"k":160,"e":-2.45},{"b":8,"k":200,"e":-1.65},
{"b":9,"k":0,"e":-1.75},{"b":9,"k":40,"e":-2.0},{"b":9,"k":83,"e":-2.3},{"b":9,"k":120,"e":-2.2},{"b":9,"k":160,"e":-2.2},{"b":9,"k":200,"e":-2.4},
{"b":10,"k":0,"e":-2.0},{"b":10,"k":40,"e":-2.2},{"b":10,"k":83,"e":-2.2},{"b":10,"k":120,"e":-2.1},{"b":10,"k":160,"e":-2.4},{"b":10,"k":200,"e":-2.6},
{"b":11,"k":0,"e":-2.25},{"b":11,"k":40,"e":-2.1},{"b":11,"k":83,"e":-2.5},{"b":11,"k":120,"e":-2.4},{"b":11,"k":160,"e":-2.1},{"b":11,"k":200,"e":-1.8},
{"b":12,"k":0,"e":-2.45},{"b":12,"k":40,"e":-2.95},{"b":12,"k":83,"e":-2.55},{"b":12,"k":120,"e":-2.5},{"b":12,"k":160,"e":-2.8},{"b":12,"k":200,"e":-3.0},
{"b":13,"k":0,"e":-2.65},{"b":13,"k":40,"e":-2.5},{"b":13,"k":83,"e":-2.8},{"b":13,"k":120,"e":-2.9},{"b":13,"k":160,"e":-2.7},{"b":13,"k":200,"e":-2.5},
{"b":14,"k":0,"e":-2.85},{"b":14,"k":40,"e":-3.15},{"b":14,"k":83,"e":-2.9},{"b":14,"k":120,"e":-3.1},{"b":14,"k":160,"e":-3.3},{"b":14,"k":200,"e":-3.4},
{"b":15,"k":0,"e":-3.05},{"b":15,"k":40,"e":-2.9},{"b":15,"k":83,"e":-3.1},{"b":15,"k":120,"e":-3.3},{"b":15,"k":160,"e":-3.1},{"b":15,"k":200,"e":-2.9},
{"b":16,"k":0,"e":-3.25},{"b":16,"k":40,"e":-3.4},{"b":16,"k":83,"e":-3.3},{"b":16,"k":120,"e":-3.4},{"b":16,"k":160,"e":-3.6},{"b":16,"k":200,"e":-3.8},
{"b":17,"k":0,"e":-3.45},{"b":17,"k":40,"e":-3.6},{"b":17,"k":83,"e":-3.8},{"b":17,"k":120,"e":-3.6},{"b":17,"k":160,"e":-3.4},{"b":17,"k":200,"e":-3.2},
{"b":18,"k":0,"e":-3.75},{"b":18,"k":40,"e":-3.8},{"b":18,"k":83,"e":-4.1},{"b":18,"k":120,"e":-3.9},{"b":18,"k":160,"e":-3.7},{"b":18,"k":200,"e":-3.9},
{"b":19,"k":0,"e":-2.2},{"b":19,"k":40,"e":-2.7},{"b":19,"k":83,"e":-2.8},{"b":19,"k":120,"e":-3.4},{"b":19,"k":160,"e":-3.9},{"b":19,"k":200,"e":-3.8},
{"b":20,"k":0,"e":-2.6},{"b":20,"k":40,"e":-2.8},{"b":20,"k":83,"e":-3.1},{"b":20,"k":120,"e":-3.6},{"b":20,"k":160,"e":-4.1},{"b":20,"k":200,"e":-4.2},
{"b":21,"k":0,"e":-3.0},{"b":21,"k":40,"e":-3.1},{"b":21,"k":83,"e":-3.4},{"b":21,"k":120,"e":-3.8},{"b":21,"k":160,"e":-4.3},{"b":21,"k":200,"e":-4.4},
{"b":22,"k":0,"e":-3.4},{"b":22,"k":40,"e":-3.3},{"b":22,"k":83,"e":-3.7},{"b":22,"k":120,"e":-4.1},{"b":22,"k":160,"e":-4.5},{"b":22,"k":200,"e":-4.7},
{"b":23,"k":0,"e":-3.95},{"b":23,"k":40,"e":-4.3},{"b":23,"k":83,"e":-5.0},{"b":23,"k":120,"e":-4.7},{"b":23,"k":160,"e":-4.3},{"b":23,"k":200,"e":-4.3},
{"b":24,"k":0,"e":-5.6},{"b":24,"k":40,"e":-5.5},{"b":24,"k":83,"e":-5.0},{"b":24,"k":120,"e":-5.45},{"b":24,"k":160,"e":-5.8},{"b":24,"k":200,"e":-5.8},
{"b":25,"k":0,"e":-5.7},{"b":25,"k":40,"e":-5.65},{"b":25,"k":83,"e":-5.45},{"b":25,"k":120,"e":-5.65},{"b":25,"k":160,"e":-5.9},{"b":25,"k":200,"e":-5.95},
{"b":26,"k":0,"e":-5.8},{"b":26,"k":40,"e":-5.8},{"b":26,"k":83,"e":-5.6},{"b":26,"k":120,"e":-5.8},{"b":26,"k":160,"e":-6.1},{"b":26,"k":200,"e":-6.3},
{"b":27,"k":0,"e":-5.95},{"b":27,"k":40,"e":-5.9},{"b":27,"k":83,"e":-5.75},{"b":27,"k":120,"e":-5.95},{"b":27,"k":160,"e":-6.35},{"b":27,"k":200,"e":-6.55},
{"b":28,"k":0,"e":-6.15},{"b":28,"k":40,"e":-6.05},{"b":28,"k":83,"e":-5.9},{"b":28,"k":120,"e":-6.15},{"b":28,"k":160,"e":-6.55},{"b":28,"k":200,"e":-6.75},
{"b":29,"k":0,"e":-6.35},{"b":29,"k":40,"e":-6.25},{"b":29,"k":83,"e":-6.05},{"b":29,"k":120,"e":-6.35},{"b":29,"k":160,"e":-6.75},{"b":29,"k":200,"e":-6.95},
{"b":30,"k":0,"e":-6.55},{"b":30,"k":40,"e":-6.4},{"b":30,"k":83,"e":-6.25},{"b":30,"k":120,"e":-6.55},{"b":30,"k":160,"e":-6.95},{"b":30,"k":200,"e":-7.15},
{"b":31,"k":0,"e":-6.75},{"b":31,"k":40,"e":-6.55},{"b":31,"k":83,"e":-6.45},{"b":31,"k":120,"e":-6.75},{"b":31,"k":160,"e":-7.15},{"b":31,"k":200,"e":-7.35},
{"b":32,"k":0,"e":-7.2},{"b":32,"k":40,"e":-6.85},{"b":32,"k":83,"e":-6.65},{"b":32,"k":120,"e":-6.95},{"b":32,"k":160,"e":-7.35},{"b":32,"k":200,"e":-7.5},
{"b":33,"k":0,"e":-6.25},{"b":33,"k":40,"e":-6.45},{"b":33,"k":83,"e":-6.35},{"b":33,"k":120,"e":-6.1},{"b":33,"k":160,"e":-5.95},{"b":33,"k":200,"e":-5.9},
{"b":34,"k":0,"e":-6.65},{"b":34,"k":40,"e":-6.65},{"b":34,"k":83,"e":-6.55},{"b":34,"k":120,"e":-6.25},{"b":34,"k":160,"e":-6.1},{"b":34,"k":200,"e":-6.05},
{"b":35,"k":0,"e":-3.9},{"b":35,"k":40,"e":-4.1},{"b":35,"k":83,"e":-4.4},{"b":35,"k":120,"e":-4.3},{"b":35,"k":160,"e":-4.6},{"b":35,"k":200,"e":-4.6},
{"b":36,"k":0,"e":-5.9},{"b":36,"k":40,"e":-6.15},{"b":36,"k":83,"e":-6.15},{"b":36,"k":120,"e":-6.0},{"b":36,"k":160,"e":-6.1},{"b":36,"k":200,"e":-6.2},
{"b":37,"k":0,"e":-6.95},{"b":37,"k":40,"e":-6.8},{"b":37,"k":83,"e":-6.85},{"b":37,"k":120,"e":-6.6},{"b":37,"k":160,"e":-6.35},{"b":37,"k":200,"e":-6.3},
{"b":38,"k":0,"e":-4.2},{"b":38,"k":40,"e":-4.0},{"b":38,"k":83,"e":-4.3},{"b":38,"k":120,"e":-4.5},{"b":38,"k":160,"e":-4.9},{"b":38,"k":200,"e":-5.0},
{"b":39,"k":0,"e":-1.4},{"b":39,"k":40,"e":-1.8},{"b":39,"k":83,"e":-2.1},{"b":39,"k":120,"e":-2.3},{"b":39,"k":160,"e":-2.1},{"b":39,"k":200,"e":-1.6},
{"b":40,"k":0,"e":-2.05},{"b":40,"k":40,"e":-2.35},{"b":40,"k":83,"e":-2.7},{"b":40,"k":120,"e":-2.7},{"b":40,"k":160,"e":-2.4},{"b":40,"k":200,"e":-2.1},
{"b":41,"k":0,"e":-2.35},{"b":41,"k":40,"e":-2.55},{"b":41,"k":83,"e":-3.0},{"b":41,"k":120,"e":-2.8},{"b":41,"k":160,"e":-2.6},{"b":41,"k":200,"e":-2.8},
{"b":42,"k":0,"e":-2.55},{"b":42,"k":40,"e":-2.85},{"b":42,"k":83,"e":-3.3},{"b":42,"k":120,"e":-3.2},{"b":42,"k":160,"e":-3.0},{"b":42,"k":200,"e":-3.1},
{"b":43,"k":0,"e":-2.75},{"b":43,"k":40,"e":-3.25},{"b":43,"k":83,"e":-3.6},{"b":43,"k":120,"e":-3.5},{"b":43,"k":160,"e":-3.2},{"b":43,"k":200,"e":-3.4},
{"b":44,"k":0,"e":-3.15},{"b":44,"k":40,"e":-2.95},{"b":44,"k":83,"e":-3.5},{"b":44,"k":120,"e":-3.4},{"b":44,"k":160,"e":-3.7},{"b":44,"k":200,"e":-3.7},
{"b":45,"k":0,"e":-3.45},{"b":45,"k":40,"e":-3.75},{"b":45,"k":83,"e":-3.7},{"b":45,"k":120,"e":-3.9},{"b":45,"k":160,"e":-4.1},{"b":45,"k":200,"e":-4.2},
{"b":46,"k":0,"e":-3.65},{"b":46,"k":40,"e":-3.95},{"b":46,"k":83,"e":-4.1},{"b":46,"k":120,"e":-4.2},{"b":46,"k":160,"e":-3.9},{"b":46,"k":200,"e":-3.6},
{"b":47,"k":0,"e":-1.85},{"b":47,"k":40,"e":-2.3},{"b":47,"k":83,"e":-2.5},{"b":47,"k":120,"e":-2.6},{"b":47,"k":160,"e":-1.9},{"b":47,"k":200,"e":-1.45},
{"b":48,"k":0,"e":-4.05},{"b":48,"k":40,"e":-4.15},{"b":48,"k":83,"e":-4.55},{"b":48,"k":120,"e":-4.45},{"b":48,"k":160,"e":-4.35},{"b":48,"k":200,"e":-4.45},
{"b":49,"k":0,"e":-2.9},{"b":49,"k":40,"e":-3.3},{"b":49,"k":83,"e":-3.2},{"b":49,"k":120,"e":-3.0},{"b":49,"k":160,"e":-2.6},{"b":49,"k":200,"e":-2.2},
{"b":50,"k":0,"e":-5.75},{"b":50,"k":40,"e":-5.7},{"b":50,"k":83,"e":-5.55},{"b":50,"k":120,"e":-5.75},{"b":50,"k":160,"e":-6.0},{"b":50,"k":200,"e":-6.1},
{"b":51,"k":0,"e":-5.9},{"b":51,"k":40,"e":-5.85},{"b":51,"k":83,"e":-5.7},{"b":51,"k":120,"e":-5.9},{"b":51,"k":160,"e":-6.25},{"b":51,"k":200,"e":-6.45},
{"b":52,"k":0,"e":-6.05},{"b":52,"k":40,"e":-6.0},{"b":52,"k":83,"e":-5.85},{"b":52,"k":120,"e":-6.05},{"b":52,"k":160,"e":-6.45},{"b":52,"k":200,"e":-6.65},
{"b":53,"k":0,"e":-6.25},{"b":53,"k":40,"e":-6.15},{"b":53,"k":83,"e":-6.0},{"b":53,"k":120,"e":-6.25},{"b":53,"k":160,"e":-6.65},{"b":53,"k":200,"e":-6.85},
{"b":54,"k":0,"e":-6.45},{"b":54,"k":40,"e":-6.3},{"b":54,"k":83,"e":-6.15},{"b":54,"k":120,"e":-6.45},{"b":54,"k":160,"e":-6.85},{"b":54,"k":200,"e":-7.05},
{"b":55,"k":0,"e":-6.65},{"b":55,"k":40,"e":-6.5},{"b":55,"k":83,"e":-6.35},{"b":55,"k":120,"e":-6.65},{"b":55,"k":160,"e":-7.05},{"b":55,"k":200,"e":-7.25},
{"b":56,"k":0,"e":-7.05},{"b":56,"k":40,"e":-6.7},{"b":56,"k":83,"e":-6.55},{"b":56,"k":120,"e":-6.85},{"b":56,"k":160,"e":-7.25},{"b":56,"k":200,"e":-7.42},
{"b":101,"k":0,"e":3.9},{"b":101,"k":40,"e":1.3},{"b":101,"k":83,"e":0},{"b":101,"k":120,"e":1.0},{"b":101,"k":160,"e":3.1},{"b":101,"k":200,"e":5.05},
{"b":102,"k":0,"e":3.99},{"b":102,"k":40,"e":1.56},{"b":102,"k":83,"e":0.34},{"b":102,"k":120,"e":1.27},{"b":102,"k":160,"e":3.23},{"b":102,"k":200,"e":5.05},
{"b":103,"k":0,"e":4.11},{"b":103,"k":40,"e":1.89},{"b":103,"k":83,"e":0.78},{"b":103,"k":120,"e":1.63},{"b":103,"k":160,"e":3.4},{"b":103,"k":200,"e":5.05},
{"b":104,"k":0,"e":4.24},{"b":104,"k":40,"e":2.27},{"b":104,"k":83,"e":1.29},{"b":104,"k":120,"e":2.04},{"b":104,"k":160,"e":3.6},{"b":104,"k":200,"e":5.05},
{"b":105,"k":0,"e":4.36},{"b":105,"k":40,"e":2.61},{"b":105,"k":83,"e":1.74},{"b":105,"k":120,"e":2.4},{"b":105,"k":160,"e":3.77},{"b":105,"k":200,"e":5.05},
{"b":106,"k":0,"e":4.48},{"b":106,"k":40,"e":2.95},{"b":106,"k":83,"e":2.18},{"b":106,"k":120,"e":2.75},{"b":106,"k":160,"e":3.94},{"b":106,"k":200,"e":5.05},
{"b":107,"k":0,"e":4.58},{"b":107,"k":40,"e":3.25},{"b":107,"k":83,"e":2.59},{"b":107,"k":120,"e":3.08},{"b":107,"k":160,"e":4.1},{"b":107,"k":200,"e":5.05},
{"b":108,"k":0,"e":4.68},{"b":108,"k":40,"e":3.53},{"b":108,"k":83,"e":2.96},{"b":108,"k":120,"e":3.37},{"b":108,"k":160,"e":4.24},{"b":108,"k":200,"e":5.05},
{"b":109,"k":0,"e":4.77},{"b":109,"k":40,"e":3.78},{"b":109,"k":83,"e":3.28},{"b":109,"k":120,"e":3.63},{"b":109,"k":160,"e":4.37},{"b":109,"k":200,"e":5.05},
{"b":110,"k":0,"e":4.84},{"b":110,"k":40,"e":3.99},{"b":110,"k":83,"e":3.57},{"b":110,"k":120,"e":3.86},{"b":110,"k":160,"e":4.48},{"b":110,"k":200,"e":5.05},
{"b":111,"k":0,"e":4.91},{"b":111,"k":40,"e":4.2},{"b":111,"k":83,"e":3.84},{"b":111,"k":120,"e":4.08},{"b":111,"k":160,"e":4.58},{"b":111,"k":200,"e":5.05},
{"b":112,"k":0,"e":4.98},{"b":112,"k":40,"e":4.39},{"b":112,"k":83,"e":4.09},{"b":112,"k":120,"e":4.28},{"b":112,"k":160,"e":4.68},{"b":112,"k":200,"e":5.05},
{"b":113,"k":0,"e":5.04},{"b":113,"k":40,"e":4.55},{"b":113,"k":83,"e":4.31},{"b":113,"k":120,"e":4.46},{"b":113,"k":160,"e":4.77},{"b":113,"k":200,"e":5.05},
{"b":114,"k":0,"e":5.09},{"b":114,"k":40,"e":4.7},{"b":114,"k":83,"e":4.5},{"b":114,"k":120,"e":4.61},{"b":114,"k":160,"e":4.84},{"b":114,"k":200,"e":5.05},
{"b":115,"k":0,"e":5.14},{"b":115,"k":40,"e":4.83},{"b":115,"k":83,"e":4.68},{"b":115,"k":120,"e":4.75},{"b":115,"k":160,"e":4.91},{"b":115,"k":200,"e":5.05},
{"b":116,"k":0,"e":5.18},{"b":116,"k":40,"e":4.96},{"b":116,"k":83,"e":4.85},{"b":116,"k":120,"e":4.89},{"b":116,"k":160,"e":4.97},{"b":116,"k":200,"e":5.05}
]
},
"hconcat":[
{"width":76,"height":317,"title":{"text":"2 ML CdO","font":"Liberation Serif"},"resolve":{"axis":{"x":"independent","y":"independent"}},"layer":[
{"data":{"values":[{"e":0}]},"mark":{"type":"rule","color":"#d9a6f2","strokeWidth":1},"encoding":{"y":{"field":"e","type":"quantitative","scale":{"domain":[-9,5],"nice":false,"zero":false},"axis":null}}},
{"data":{"values":[{"k":12,"e":-2.6,"e2":-9}]},"mark":{"type":"rule","color":"#80d4b4","strokeWidth":1.3},"encoding":{"x":{"field":"k","type":"quantitative","scale":{"domain":[0,200],"nice":false,"zero":false},"axis":{"orient":"top","values":[0,83,200],"labels":false,"title":null,"grid":false,"tickSize":5}},"y":{"field":"e","type":"quantitative","scale":{"domain":[-9,5],"nice":false,"zero":false},"axis":{"orient":"right","values":[-8,-6,-4,-2,0,2,4],"labels":false,"title":null,"grid":false,"tickSize":8}},"y2":{"field":"e2"}}},
{"data":{"name":"p1"},"mark":{"type":"line","color":"#0000ff","strokeWidth":0.9,"interpolate":"monotone","clip":true},"encoding":{"detail":{"field":"b","type":"nominal"},"x":{"field":"k","type":"quantitative","scale":{"domain":[0,200],"nice":false,"zero":false},"axis":{"orient":"bottom","values":[0,12,83,200],"labelExpr":"datum.value==0?'X':datum.value==12?'~X':datum.value==83?'Γ':'L'","title":null,"grid":true,"gridColor":"#999999","gridOpacity":{"condition":{"test":"datum.value==83","value":1},"value":0},"tickSize":5,"tickColor":{"condition":{"test":"datum.value==12","value":"#80d4b4"},"value":"#333333"},"labelFont":"Liberation Serif","labelColor":{"condition":{"test":"datum.value==12","value":"#1fa67a"},"value":"#000000"},"labelFontSize":{"condition":{"test":"datum.value==12","value":13},"value":15},"labelPadding":{"condition":{"test":"datum.value==12","value":-3},"value":7},"labelOffset":{"condition":{"test":"datum.value==12","value":7},"value":0},"labelBaseline":"top","labelOverlap":false,"labelFlush":false,"labelBound":false}},"y":{"field":"e","type":"quantitative","scale":{"domain":[-9,5],"nice":false,"zero":false},"axis":{"orient":"left","values":[-8,-6,-4,-2,0,2,4],"title":"E [eV]","titleFont":"Liberation Serif","titleFontSize":18,"titleFontWeight":"normal","titlePadding":12,"labelFont":"Liberation Serif","labelFontSize":14,"labelPadding":11,"tickSize":8,"grid":false,"labelFlush":false}}}}
]},
{"width":76,"height":317,"title":{"text":"4 ML CdO","font":"Liberation Serif"},"resolve":{"axis":{"x":"independent","y":"independent"}},"layer":[
{"data":{"values":[{"e":0}]},"mark":{"type":"rule","color":"#d9a6f2","strokeWidth":1},"encoding":{"y":{"field":"e","type":"quantitative","scale":{"domain":[-9,5],"nice":false,"zero":false},"axis":null}}},
{"data":{"values":[{"k":12,"e":-1.9,"e2":-9}]},"mark":{"type":"rule","color":"#80d4b4","strokeWidth":1.3},"encoding":{"x":{"field":"k","type":"quantitative","scale":{"domain":[0,200],"nice":false,"zero":false},"axis":{"orient":"top","values":[0,83,200],"labels":false,"title":null,"grid":false,"tickSize":5}},"y":{"field":"e","type":"quantitative","scale":{"domain":[-9,5],"nice":false,"zero":false},"axis":{"orient":"right","values":[-8,-6,-4,-2,0,2,4],"labels":false,"title":null,"grid":false,"tickSize":8}},"y2":{"field":"e2"}}},
{"data":{"name":"p2"},"mark":{"type":"line","color":"#0000ff","strokeWidth":0.9,"interpolate":"monotone","clip":true},"encoding":{"detail":{"field":"b","type":"nominal"},"x":{"field":"k","type":"quantitative","scale":{"domain":[0,200],"nice":false,"zero":false},"axis":{"orient":"bottom","values":[0,12,83,200],"labelExpr":"datum.value==0?'X':datum.value==12?'~X':datum.value==83?'Γ':'L'","title":null,"grid":true,"gridColor":"#999999","gridOpacity":{"condition":{"test":"datum.value==83","value":1},"value":0},"tickSize":5,"tickColor":{"condition":{"test":"datum.value==12","value":"#80d4b4"},"value":"#333333"},"labelFont":"Liberation Serif","labelColor":{"condition":{"test":"datum.value==12","value":"#1fa67a"},"value":"#000000"},"labelFontSize":{"condition":{"test":"datum.value==12","value":13},"value":15},"labelPadding":{"condition":{"test":"datum.value==12","value":-3},"value":7},"labelOffset":{"condition":{"test":"datum.value==12","value":7},"value":0},"labelBaseline":"top","labelOverlap":false,"labelFlush":false,"labelBound":false}},"y":{"field":"e","type":"quantitative","scale":{"domain":[-9,5],"nice":false,"zero":false},"axis":{"orient":"left","values":[-8,-6,-4,-2,0,2,4],"labels":false,"title":null,"tickSize":8,"grid":false}}}}
]},
{"width":76,"height":317,"title":{"text":"6 ML CdO","font":"Liberation Serif"},"resolve":{"axis":{"x":"independent","y":"independent"}},"layer":[
{"data":{"values":[{"e":0}]},"mark":{"type":"rule","color":"#d9a6f2","strokeWidth":1},"encoding":{"y":{"field":"e","type":"quantitative","scale":{"domain":[-9,5],"nice":false,"zero":false},"axis":null}}},
{"data":{"values":[{"k":12,"e":-1.6,"e2":-9}]},"mark":{"type":"rule","color":"#80d4b4","strokeWidth":1.3},"encoding":{"x":{"field":"k","type":"quantitative","scale":{"domain":[0,200],"nice":false,"zero":false},"axis":{"orient":"top","values":[0,83,200],"labels":false,"title":null,"grid":false,"tickSize":5}},"y":{"field":"e","type":"quantitative","scale":{"domain":[-9,5],"nice":false,"zero":false},"axis":{"orient":"right","values":[-8,-6,-4,-2,0,2,4],"labels":false,"title":null,"grid":false,"tickSize":8}},"y2":{"field":"e2"}}},
{"data":{"name":"p3"},"mark":{"type":"line","color":"#0000ff","strokeWidth":0.9,"interpolate":"monotone","clip":true},"encoding":{"detail":{"field":"b","type":"nominal"},"x":{"field":"k","type":"quantitative","scale":{"domain":[0,200],"nice":false,"zero":false},"axis":{"orient":"bottom","values":[0,12,83,200],"labelExpr":"datum.value==0?'X':datum.value==12?'~X':datum.value==83?'Γ':'L'","title":null,"grid":true,"gridColor":"#999999","gridOpacity":{"condition":{"test":"datum.value==83","value":1},"value":0},"tickSize":5,"tickColor":{"condition":{"test":"datum.value==12","value":"#80d4b4"},"value":"#333333"},"labelFont":"Liberation Serif","labelColor":{"condition":{"test":"datum.value==12","value":"#1fa67a"},"value":"#000000"},"labelFontSize":{"condition":{"test":"datum.value==12","value":13},"value":15},"labelPadding":{"condition":{"test":"datum.value==12","value":-3},"value":7},"labelOffset":{"condition":{"test":"datum.value==12","value":7},"value":0},"labelBaseline":"top","labelOverlap":false,"labelFlush":false,"labelBound":false}},"y":{"field":"e","type":"quantitative","scale":{"domain":[-9,5],"nice":false,"zero":false},"axis":{"orient":"left","values":[-8,-6,-4,-2,0,2,4],"labels":false,"title":null,"tickSize":8,"grid":false}}}}
]},
{"width":76,"height":317,"title":{"text":"8 ML CdO","font":"Liberation Serif"},"resolve":{"axis":{"x":"independent","y":"independent"}},"layer":[
{"data":{"values":[{"e":0}]},"mark":{"type":"rule","color":"#d9a6f2","strokeWidth":1},"encoding":{"y":{"field":"e","type":"quantitative","scale":{"domain":[-9,5],"nice":false,"zero":false},"axis":null}}},
{"data":{"values":[{"k":12,"e":-1.35,"e2":-9}]},"mark":{"type":"rule","color":"#80d4b4","strokeWidth":1.3},"encoding":{"x":{"field":"k","type":"quantitative","scale":{"domain":[0,200],"nice":false,"zero":false},"axis":{"orient":"top","values":[0,83,200],"labels":false,"title":null,"grid":false,"tickSize":5}},"y":{"field":"e","type":"quantitative","scale":{"domain":[-9,5],"nice":false,"zero":false},"axis":{"orient":"right","values":[-8,-6,-4,-2,0,2,4],"labels":false,"title":null,"grid":false,"tickSize":8}},"y2":{"field":"e2"}}},
{"data":{"name":"p4"},"mark":{"type":"line","color":"#0000ff","strokeWidth":0.9,"interpolate":"monotone","clip":true},"encoding":{"detail":{"field":"b","type":"nominal"},"x":{"field":"k","type":"quantitative","scale":{"domain":[0,200],"nice":false,"zero":false},"axis":{"orient":"bottom","values":[0,12,83,200],"labelExpr":"datum.value==0?'X':datum.value==12?'~X':datum.value==83?'Γ':'L'","title":null,"grid":true,"gridColor":"#999999","gridOpacity":{"condition":{"test":"datum.value==83","value":1},"value":0},"tickSize":5,"tickColor":{"condition":{"test":"datum.value==12","value":"#80d4b4"},"value":"#333333"},"labelFont":"Liberation Serif","labelColor":{"condition":{"test":"datum.value==12","value":"#1fa67a"},"value":"#000000"},"labelFontSize":{"condition":{"test":"datum.value==12","value":13},"value":15},"labelPadding":{"condition":{"test":"datum.value==12","value":-3},"value":7},"labelOffset":{"condition":{"test":"datum.value==12","value":7},"value":0},"labelBaseline":"top","labelOverlap":false,"labelFlush":false,"labelBound":false}},"y":{"field":"e","type":"quantitative","scale":{"domain":[-9,5],"nice":false,"zero":false},"axis":{"orient":"left","values":[-8,-6,-4,-2,0,2,4],"labels":false,"title":null,"tickSize":8,"grid":false}}}}
]},
{"width":76,"height":317,"title":{"text":"10 ML CdO","font":"Liberation Serif"},"resolve":{"axis":{"x":"independent","y":"independent"}},"layer":[
{"data":{"values":[{"e":0}]},"mark":{"type":"rule","color":"#d9a6f2","strokeWidth":1},"encoding":{"y":{"field":"e","type":"quantitative","scale":{"domain":[-9,5],"nice":false,"zero":false},"axis":null}}},
{"data":{"values":[{"k":12,"e":-1.0,"e2":-9}]},"mark":{"type":"rule","color":"#80d4b4","strokeWidth":1.3},"encoding":{"x":{"field":"k","type":"quantitative","scale":{"domain":[0,200],"nice":false,"zero":false},"axis":{"orient":"top","values":[0,83,200],"labels":false,"title":null,"grid":false,"tickSize":5}},"y":{"field":"e","type":"quantitative","scale":{"domain":[-9,5],"nice":false,"zero":false},"axis":{"orient":"right","values":[-8,-6,-4,-2,0,2,4],"labels":false,"title":null,"grid":false,"tickSize":8}},"y2":{"field":"e2"}}},
{"data":{"name":"p5"},"mark":{"type":"line","color":"#0000ff","strokeWidth":0.9,"interpolate":"monotone","clip":true},"encoding":{"detail":{"field":"b","type":"nominal"},"x":{"field":"k","type":"quantitative","scale":{"domain":[0,200],"nice":false,"zero":false},"axis":{"orient":"bottom","values":[0,12,83,200],"labelExpr":"datum.value==0?'X':datum.value==12?'~X':datum.value==83?'Γ':'L'","title":null,"grid":true,"gridColor":"#999999","gridOpacity":{"condition":{"test":"datum.value==83","value":1},"value":0},"tickSize":5,"tickColor":{"condition":{"test":"datum.value==12","value":"#80d4b4"},"value":"#333333"},"labelFont":"Liberation Serif","labelColor":{"condition":{"test":"datum.value==12","value":"#1fa67a"},"value":"#000000"},"labelFontSize":{"condition":{"test":"datum.value==12","value":13},"value":15},"labelPadding":{"condition":{"test":"datum.value==12","value":-3},"value":7},"labelOffset":{"condition":{"test":"datum.value==12","value":7},"value":0},"labelBaseline":"top","labelOverlap":false,"labelFlush":false,"labelBound":false}},"y":{"field":"e","type":"quantitative","scale":{"domain":[-9,5],"nice":false,"zero":false},"axis":{"orient":"left","values":[-8,-6,-4,-2,0,2,4],"labels":false,"title":null,"tickSize":8,"grid":false}}}}
]},
{"width":76,"height":317,"title":{"text":"12 ML CdO","font":"Liberation Serif"},"resolve":{"axis":{"x":"independent","y":"independent"}},"layer":[
{"data":{"values":[{"e":0}]},"mark":{"type":"rule","color":"#d9a6f2","strokeWidth":1},"encoding":{"y":{"field":"e","type":"quantitative","scale":{"domain":[-9,5],"nice":false,"zero":false},"axis":null}}},
{"data":{"values":[{"k":12,"e":-1.0,"e2":-9}]},"mark":{"type":"rule","color":"#80d4b4","strokeWidth":1.3},"encoding":{"x":{"field":"k","type":"quantitative","scale":{"domain":[0,200],"nice":false,"zero":false},"axis":{"orient":"top","values":[0,83,200],"labels":false,"title":null,"grid":false,"tickSize":5}},"y":{"field":"e","type":"quantitative","scale":{"domain":[-9,5],"nice":false,"zero":false},"axis":{"orient":"right","values":[-8,-6,-4,-2,0,2,4],"labels":false,"title":null,"grid":false,"tickSize":8}},"y2":{"field":"e2"}}},
{"data":{"name":"p6"},"mark":{"type":"line","color":"#0000ff","strokeWidth":0.9,"interpolate":"monotone","clip":true},"encoding":{"detail":{"field":"b","type":"nominal"},"x":{"field":"k","type":"quantitative","scale":{"domain":[0,200],"nice":false,"zero":false},"axis":{"orient":"bottom","values":[0,12,83,200],"labelExpr":"datum.value==0?'X':datum.value==12?'~X':datum.value==83?'Γ':'L'","title":null,"grid":true,"gridColor":"#999999","gridOpacity":{"condition":{"test":"datum.value==83","value":1},"value":0},"tickSize":5,"tickColor":{"condition":{"test":"datum.value==12","value":"#80d4b4"},"value":"#333333"},"labelFont":"Liberation Serif","labelColor":{"condition":{"test":"datum.value==12","value":"#1fa67a"},"value":"#000000"},"labelFontSize":{"condition":{"test":"datum.value==12","value":13},"value":15},"labelPadding":{"condition":{"test":"datum.value==12","value":-3},"value":7},"labelOffset":{"condition":{"test":"datum.value==12","value":7},"value":0},"labelBaseline":"top","labelOverlap":false,"labelFlush":false,"labelBound":false}},"y":{"field":"e","type":"quantitative","scale":{"domain":[-9,5],"nice":false,"zero":false},"axis":{"orient":"left","values":[-8,-6,-4,-2,0,2,4],"labels":false,"title":null,"tickSize":8,"grid":false}}}}
]}
]
}
